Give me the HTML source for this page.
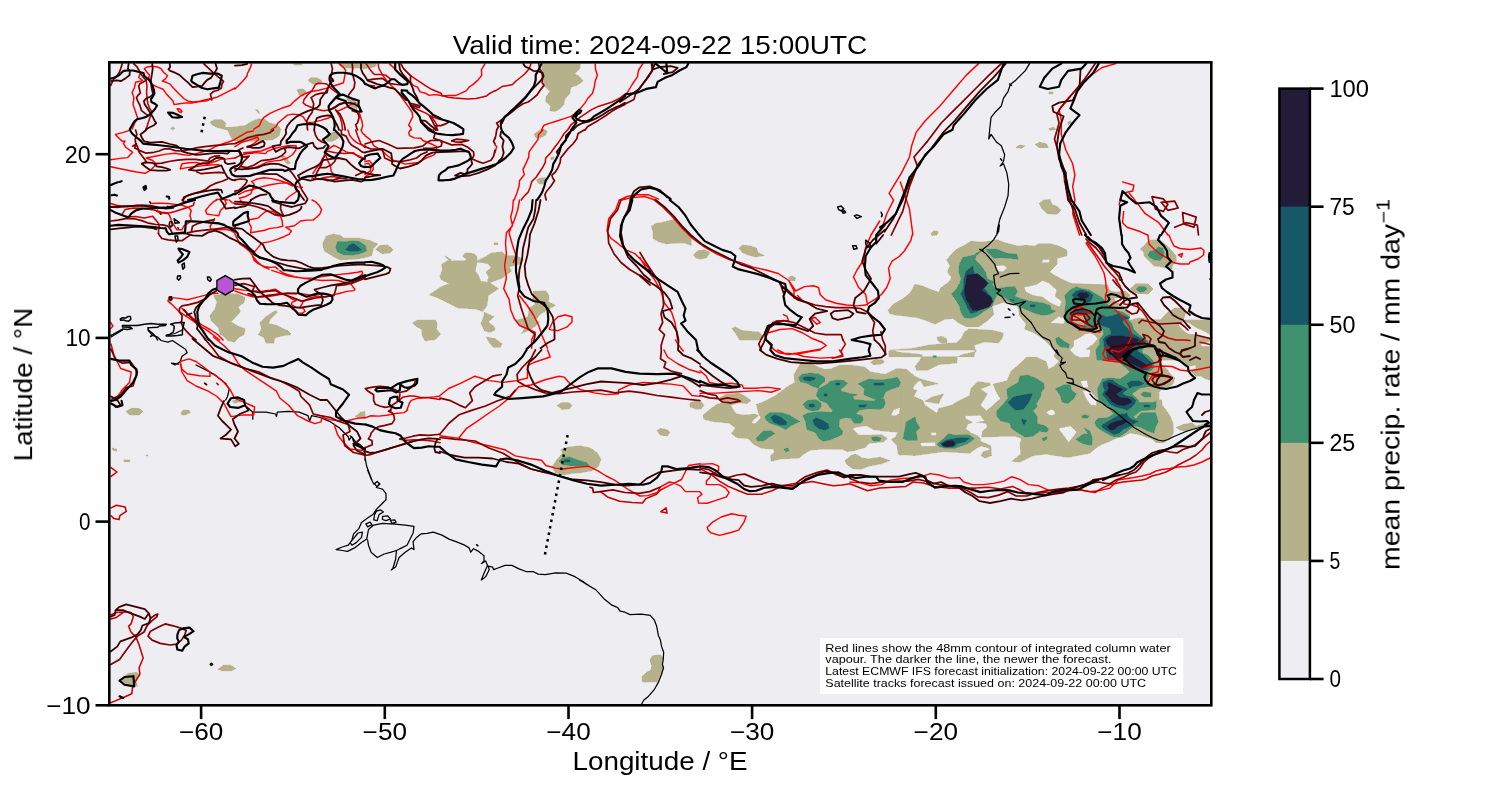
<!DOCTYPE html>
<html><head><meta charset="utf-8"><title>Valid time: 2024-09-22 15:00UTC</title>
<style>
html,body{margin:0;padding:0;background:#fff;}
body{width:1500px;height:800px;overflow:hidden;font-family:"Liberation Sans",sans-serif;}
svg{display:block}
text{font-family:"Liberation Sans",sans-serif;fill:#000;will-change:transform}
</style></head><body>
<svg width="1500" height="800" viewBox="0 0 1500 800">
<rect x="0" y="0" width="1500" height="800" fill="#fff"/>
<defs><clipPath id="ax"><rect x="109.3" y="62.3" width="1102.0" height="643.0"/></clipPath></defs>

<rect x="109.3" y="62.3" width="1102.0" height="643.0" fill="#eeedf2"/>
<g clip-path="url(#ax)">
<path d="M703.0,415.0 711.1,408.5 716.8,404.4 723.3,402.8 730.6,405.2 733.9,410.9 737.1,414.2 743.6,415.0 755.0,414.2 759.5,416.3 756.3,404.4 761.5,402.8 774.5,396.3 787.5,386.6 794.8,382.5 794.0,374.4 796.4,370.3 800.5,363.8 810.2,363.0 818.4,367.1 824.9,369.5 831.4,368.7 839.5,365.4 852.5,365.4 864.7,367.1 870.4,371.9 885.0,374.4 896.4,368.7 901.2,368.7 901.2,455.6 898.0,454.0 897.2,445.9 891.5,439.4 895.6,436.9 898.0,432.1 885.0,431.2 873.6,429.6 866.3,425.6 855.7,427.2 852.5,428.8 859.0,435.3 868.7,435.3 881.7,434.5 887.4,438.6 883.4,441.8 868.7,443.4 865.5,447.5 859.0,449.1 854.1,450.7 847.6,451.6 842.7,449.4 824.9,449.1 811.1,449.9 803.7,454.0 798.9,458.1 781.0,458.9 771.2,461.3 770.4,455.6 774.5,452.4 773.7,449.1 761.5,448.3 753.4,444.2 748.5,438.6 737.1,437.7 731.4,433.7 735.5,428.0 729.0,423.1 712.7,421.5 703.8,419.1Z M690.0,402.8 694.9,401.2 701.4,402.0 703.8,405.2 701.4,408.8 696.5,409.3 690.0,406.9Z M718.4,398.7 724.9,394.7 738.7,393.1 745.2,396.3 750.9,400.4 746.9,403.6 738.7,402.8 730.6,405.2 722.5,403.3Z M870.4,362.2 875.2,359.4 882.6,359.7 884.2,362.2 880.1,364.3 873.6,364.6Z M845.2,460.5 850.9,455.6 855.7,454.0 862.2,458.1 868.7,458.9 880.1,457.2 889.9,460.5 881.7,463.7 868.7,466.2 860.6,469.4 852.5,468.6 846.0,463.7Z M890.0,350.0 899.6,352.4 917.5,354.1 922.5,354.9 919.2,361.4 915.2,366.2 916.8,370.3 927.4,370.3 938.7,364.6 956.6,363.0 957.4,357.3 961.5,354.9 976.1,351.6 976.1,350.0Z M899.7,369.2 906.2,369.2 914.4,376.0 920.9,379.2 937.9,383.6 924.1,386.6 920.1,380.1 914.4,384.9 912.7,389.0 916.8,390.6 913.6,396.3 922.5,400.4 924.9,405.2 937.1,413.4 938.7,408.5 951.7,405.2 958.2,401.2 969.6,395.5 971.2,388.2 977.7,381.7 989.9,383.3 990.7,384.9 980.2,389.0 987.5,393.9 980.2,405.2 986.7,410.9 1000.5,398.7 996.4,392.2 993.2,384.1 1007.0,380.9 1011.1,371.1 1020.0,363.8 1026.5,357.3 1036.2,357.3 1046.0,361.4 1048.4,369.5 1054.1,366.2 1059.0,361.4 1054.1,356.5 1056.6,350.0 1130.0,350.0 1130.0,431.2 1117.5,437.7 1106.1,442.6 1098.0,445.9 1089.9,453.2 1068.7,457.2 1060.6,456.4 1046.0,454.0 1033.0,455.6 1020.0,462.1 1011.9,461.3 1020.8,454.0 1020.0,444.2 1021.6,438.6 1015.1,436.1 981.0,436.9 980.2,441.0 990.7,445.9 991.6,455.6 985.1,458.1 981.0,455.6 983.4,451.6 990.7,449.9 987.5,447.5 981.0,445.9 977.7,447.5 969.6,453.2 943.6,451.6 914.4,455.6 899.7,454.3Z M924.9,401.2 932.2,397.1 943.6,393.9 940.4,399.6 938.7,403.6 930.6,402.3Z M1130.0,320.0 1210.0,320.0 1210.0,380.0 1206.0,379.0 1201.0,376.0 1196.0,376.0 1191.0,372.0 1196.0,369.0 1196.0,365.0 1190.0,366.0 1185.0,367.0 1180.0,362.0 1173.0,359.0 1166.0,357.0 1160.0,360.0 1162.0,365.0 1167.0,369.0 1170.0,374.0 1175.0,378.0 1173.0,384.0 1170.0,386.0 1162.0,389.0 1159.0,392.0 1159.0,400.0 1130.0,400.0Z M1090.0,400.0 1161.5,400.0 1162.0,405.0 1166.0,410.0 1170.0,416.0 1173.0,423.0 1173.5,433.0 1170.0,439.0 1164.0,442.5 1156.0,442.5 1152.0,439.0 1146.0,437.0 1137.0,434.0 1130.0,433.0 1122.0,437.0 1115.0,438.0 1110.0,441.0 1102.0,444.0 1096.0,448.0 1090.0,452.0Z M1176.0,427.5 1183.0,424.5 1192.0,423.0 1196.0,426.0 1200.0,425.0 1208.0,422.5 1209.0,424.5 1203.0,426.5 1195.0,429.0 1186.0,431.5 1180.0,430.0Z M888.1,310.3 893.0,304.6 902.7,298.9 910.1,293.2 914.9,284.3 922.2,285.9 932.0,290.0 939.3,292.4 940.1,288.4 949.9,281.1 951.5,277.0 947.4,272.1 949.9,265.6 946.6,259.9 951.5,254.2 956.4,249.4 964.5,245.3 971.0,241.2 980.7,242.1 990.5,241.2 997.0,239.6 1005.1,242.9 1018.1,246.1 1026.2,245.3 1034.4,246.1 1039.2,243.7 1050.6,243.7 1058.7,246.1 1066.9,250.2 1066.9,255.9 1057.1,258.3 1057.1,264.0 1052.2,268.9 1049.8,272.1 1054.7,275.4 1063.6,280.2 1071.7,283.5 1089.6,284.3 1107.5,285.1 1107.5,355.0 1057.1,355.0 1050.6,346.1 1040.9,337.1 1032.7,332.2 1024.6,329.0 1026.2,324.1 1019.7,316.0 1018.1,306.2 1010.0,304.6 1003.5,302.2 992.1,306.2 993.7,314.4 987.2,320.9 979.1,326.6 966.1,326.6 958.0,322.5 953.1,318.4 945.0,319.2 935.2,324.1 927.1,320.9 917.4,317.6 904.4,316.0 889.7,313.6Z M888.9,350.9 901.1,349.3 912.5,348.5 928.7,345.2 945.0,343.6 956.4,342.8 961.2,338.7 964.5,332.2 968.6,329.0 984.0,329.8 993.7,330.6 1003.5,333.1 1001.9,338.7 998.6,342.8 984.0,342.0 974.2,345.2 975.1,350.1 974.2,356.6 888.9,356.6Z M937.2,337.1 941.7,336.3 946.6,338.7 946.6,342.8 941.7,343.3 937.7,340.4Z M931.2,233.1 935.2,231.2 938.2,232.3 936.9,234.7 932.0,235.6Z M1140.0,249.0 1144.5,245.5 1147.0,242.0 1150.0,240.0 1160.0,240.0 1166.0,245.0 1173.0,252.0 1176.0,256.0 1176.5,261.0 1173.0,264.0 1172.0,269.0 1166.0,268.0 1160.0,266.5 1154.0,266.0 1149.0,261.0 1144.0,256.0 1143.5,252.0Z M1130.0,289.0 1136.0,283.5 1148.0,284.0 1153.0,289.0 1148.0,294.0 1138.0,293.5 1133.0,292.0Z M1163.0,320.0 1164.0,316.0 1169.0,312.0 1175.0,308.0 1182.0,309.0 1186.0,312.0 1184.0,316.0 1183.0,320.0Z M1205.0,320.0 1206.0,317.5 1210.0,317.0 1210.0,320.0Z M1060.0,280.0 1064.0,280.0 1066.0,283.0 1072.0,284.0 1085.0,284.5 1102.0,284.5 1105.0,286.0 1108.0,286.0 1110.0,291.0 1116.0,292.0 1125.0,291.0 1130.0,295.0 1129.0,297.5 1120.0,297.0 1114.0,298.5 1116.0,302.0 1120.0,304.0 1124.0,307.0 1126.0,311.0 1130.0,314.5 1129.0,318.0 1130.0,322.0 1134.0,319.0 1140.0,318.0 1147.0,319.0 1150.0,320.0 1160.0,320.0 1164.0,316.0 1168.0,312.0 1174.0,309.0 1180.0,308.0 1184.0,310.0 1185.0,314.0 1184.0,318.0 1180.0,324.0 1183.0,328.0 1186.0,332.0 1190.0,334.0 1190.0,360.0 1060.0,360.0Z M651.4,226.2 655.7,223.6 662.7,222.4 675.0,219.2 680.2,222.7 685.5,228.9 690.7,236.7 691.6,245.5 683.7,242.9 666.2,243.7 659.2,242.0 653.1,238.5 653.1,232.4Z M693.4,255.1 697.7,250.7 704.7,249.9 710.0,252.5 706.5,257.7 700.4,259.1 696.0,258.1Z M738.9,248.1 742.4,245.1 750.2,245.8 756.4,248.1 758.1,252.5 764.2,255.6 755.5,256.9 748.5,255.1 742.4,252.5Z M788.4,277.0 792.2,276.1 795.7,277.9 794.8,280.8 789.6,280.5Z M731.9,328.6 735.4,326.9 741.5,330.3 748.5,331.2 759.0,332.1 762.5,335.6 760.7,340.0 739.7,340.0 735.4,333.0Z M888.5,310.2 893.7,304.1 900.0,300.6 900.0,315.5 893.7,314.6Z M429.4,294.9 440.7,287.0 449.5,283.5 441.6,280.0 439.9,276.5 442.5,269.5 441.6,264.2 447.7,260.7 465.2,260.7 467.0,259.0 462.6,256.4 465.2,252.9 474.0,253.7 476.6,256.4 477.5,260.7 484.5,257.2 491.5,252.9 502.0,252.0 505.5,255.5 516.0,255.5 523.8,259.9 519.5,264.2 512.5,266.0 509.0,266.9 511.6,271.2 502.0,278.2 489.7,282.6 498.5,288.7 488.0,295.7 487.1,305.4 482.7,311.5 475.7,308.9 458.2,308.0 447.7,302.7 437.2,297.5Z M445.1,255.8 451.2,259.9 449.5,260.7 446.0,257.6Z M494.1,242.9 497.6,242.9 497.6,244.6 494.1,244.6Z M390.0,246.7 392.6,250.2 390.0,252.9Z M533.5,291.4 545.7,290.8 549.2,295.7 548.3,301.9 555.3,305.4 547.5,309.7 540.5,314.1 535.2,320.2 539.6,322.0 535.2,326.4 528.2,330.7 521.2,333.4 524.7,329.0 519.5,325.5 516.0,320.2 523.0,318.5 528.2,316.7 529.1,308.0 535.2,304.5 532.6,297.5Z M412.7,322.9 417.1,320.2 435.5,320.2 437.2,323.7 436.4,329.0 440.7,334.2 435.5,339.5 425.0,340.9 422.4,336.0 421.5,329.0 416.2,326.4Z M481.0,323.7 483.6,316.7 484.5,312.4 494.1,316.7 488.0,322.0 494.1,326.4 495.0,329.9 489.7,332.5 484.5,330.7Z M486.2,336.9 495.0,338.6 502.0,343.8 500.2,347.3 493.2,347.3 488.9,342.1Z M210.0,122.1 214.4,119.5 221.4,119.5 225.7,123.0 224.9,127.4 231.0,127.4 245.0,125.6 252.0,121.2 259.0,118.6 265.1,119.5 269.5,123.0 277.3,124.7 280.8,129.1 279.1,136.1 273.0,139.6 262.5,140.5 252.0,141.4 241.5,141.4 232.7,140.5 230.1,135.2 227.5,130.0 217.0,127.4 211.7,124.7Z M308.0,80.1 311.5,77.5 317.6,78.0 322.0,81.0 320.2,83.6 312.3,84.1Z M297.1,89.7 302.7,88.9 306.2,91.5 303.6,95.9 299.2,95.0Z M346.5,97.6 353.5,99.4 357.0,103.7 357.0,109.0 351.7,107.2 348.2,102.0Z M326.3,138.7 332.5,131.7 337.7,132.6 338.6,137.9 332.5,141.4 327.2,141.4Z M280.8,156.2 284.3,155.4 290.5,163.2 287.0,164.1Z M170.6,128.2 173.2,126.8 175.0,128.6 172.4,130.0Z M255.5,109.5 257.6,109.5 259.8,113.4 258.1,113.0Z M293.1,63.5 302.7,63.5 301.8,64.9 294.0,64.9Z M338.6,63.8 365.0,63.8 365.0,68.7 358.7,67.9 350.0,68.4 341.2,67.0Z M542.0,63.8 580.5,63.8 579.6,68.7 574.3,74.0 578.7,75.7 583.1,81.0 577.0,85.4 570.8,87.1 570.0,93.2 564.7,99.4 563.8,104.6 559.5,109.0 555.1,111.6 549.8,110.7 550.7,106.4 545.5,101.1 546.3,96.7 549.8,91.5 544.6,86.2 543.7,77.5 542.0,70.5Z M534.1,134.4 538.5,130.9 543.7,129.1 547.2,130.9 545.5,135.2 540.2,137.9 535.8,137.9Z M550.4,157.6 554.2,156.8 553.3,159.4 551.1,159.7Z M536.4,179.9 540.2,178.1 545.5,177.6 545.5,181.6 542.8,184.2 538.5,183.4Z M361.7,63.8 375.7,63.8 376.6,66.1 370.5,67.9 363.5,68.7Z M213.5,295.6 224.0,293.9 238.0,293.9 245.0,297.4 244.1,302.6 238.0,307.0 240.6,311.4 235.3,317.5 231.0,321.9 238.0,326.2 245.0,328.8 243.2,335.0 220.5,335.0 218.7,328.0 210.9,320.1 210.0,315.7 215.2,308.7 217.0,301.7Z M259.0,335.0 261.6,328.0 259.8,322.7 266.0,316.6 275.6,310.5 277.3,312.2 270.3,319.2 268.6,323.6 276.5,325.3 285.2,329.7 290.5,335.0Z M322.4,244.1 326.2,236.2 333.2,234.1 340.2,235.4 343.7,238.0 359.5,238.3 370.0,240.6 377.9,244.1 373.5,248.5 371.7,255.5 366.5,257.2 357.7,259.0 340.2,259.9 333.2,256.4 324.5,251.1Z M375.6,249.4 379.6,245.5 387.5,245.0 392.7,249.4 390.1,252.9 382.2,253.7Z M218.7,330.0 245.0,330.0 244.1,334.4 238.0,337.9 234.5,342.2 227.5,340.5 222.2,335.2Z M258.1,334.4 262.5,330.0 287.0,330.0 290.5,333.5 281.7,336.1 274.7,337.9 273.8,343.1 266.0,343.1 264.2,337.9Z M126.0,411.4 131.2,408.4 139.1,408.4 143.1,411.4 139.1,414.9 129.5,414.9Z M181.1,412.2 183.7,410.1 189.0,410.5 190.4,412.6 185.5,414.9 181.6,414.9Z M355.2,416.6 360.5,412.2 365.0,411.4 365.0,418.4 358.7,418.0Z M231.9,400.9 238.0,399.6 240.6,401.7 234.5,403.1Z M112.0,448.1 116.4,449.0 116.9,451.1 112.9,450.4Z M123.9,459.8 129.5,459.8 129.8,461.6 124.2,461.7Z M146.1,454.9 147.9,454.9 147.9,455.8 146.1,455.8Z M557.2,405.6 561.6,402.5 568.6,402.5 572.1,405.6 569.5,408.6 562.5,409.5Z M657.0,430.5 660.5,428.4 666.6,429.6 670.1,432.2 667.5,435.7 660.5,435.4Z M552.0,467.2 556.4,460.2 562.5,453.2 560.7,449.7 567.7,447.1 580.0,445.9 590.5,448.0 597.5,453.2 601.0,459.4 598.3,466.4 592.2,470.7 581.7,472.5 571.2,473.4 562.5,475.1 555.5,472.5Z M217.9,669.4 223.6,665.3 230.9,665.3 235.8,668.6 231.7,670.7 222.0,670.7Z M121.2,679.9 127.7,673.4 136.7,672.3 139.9,675.9 135.9,680.7 137.5,686.4 129.4,685.6 123.7,684.0Z M650.2,659.6 652.6,655.6 660.7,655.1 662.7,658.0 662.0,663.7 663.2,667.7 659.9,675.9 657.2,681.6 644.5,682.0 642.1,681.6 642.1,676.7 646.1,672.6 651.0,670.2 651.8,665.3 650.7,662.9Z M1039.3,203.5 1043.2,200.1 1050.0,199.4 1052.3,204.6 1057.9,206.9 1060.9,210.3 1056.8,214.3 1047.7,213.7 1042.1,209.1Z M1035.3,144.5 1039.8,142.3 1046.6,143.9 1048.2,147.5 1038.7,147.5Z M1016.0,147.5 1019.4,145.2 1025.1,145.7 1021.7,148.4Z M1048.9,128.7 1053.4,127.1 1055.7,129.3 1050.0,130.5Z M1048.9,91.9 1052.9,91.9 1052.9,93.8 1048.9,93.8Z M931.0,234.1 933.3,231.3 937.8,231.3 936.7,235.0Z M1067.2,123.0 1070.4,120.7 1071.5,123.0 1068.6,124.8Z" fill="#b5b18b" stroke="#b5b18b" stroke-width="0.6" stroke-linejoin="round" shape-rendering="crispEdges"/>
<path d="M759.5,415.8 754.2,419.5 752.2,422.6 755.0,423.4 760.2,417.9Z M891.5,415.0 893.9,410.1 899.6,408.2 898.8,413.4 895.1,415.5Z M965.6,416.3 980.2,415.8 983.9,420.7 974.5,422.3 985.9,423.9 986.7,427.2 981.8,431.2 981.0,438.6 977.7,435.3 971.2,432.5 966.4,428.8 968.0,424.7 973.7,422.3 966.4,418.6Z M920.9,443.4 934.7,442.6 935.2,445.5 921.7,445.9Z M931.4,433.2 935.8,432.9 936.0,434.8 931.8,435.1Z M1046.8,412.6 1050.9,409.8 1054.1,410.9 1054.9,414.2 1050.1,415.0Z M1059.0,428.8 1070.4,426.4 1076.1,432.1 1072.0,437.7 1068.7,441.8 1066.3,438.6 1062.2,432.9Z M1080.9,381.7 1086.6,380.9 1087.9,387.4 1083.4,386.6Z M1083.4,391.4 1089.1,390.3 1096.4,398.7 1095.6,405.2 1090.7,404.4 1086.6,398.7Z M1073.6,350.0 1089.9,350.0 1089.1,356.5 1082.6,356.5 1076.9,354.1Z M1179.0,325.0 1184.0,322.0 1190.0,324.0 1196.0,328.0 1203.0,331.0 1210.0,335.0 1210.0,337.0 1204.0,336.5 1196.0,334.0 1188.0,333.5 1183.0,330.0Z M1201.0,344.5 1210.0,341.5 1210.0,346.0 1202.0,345.8Z M1090.0,334.0 1094.0,335.0 1097.0,339.0 1093.0,344.0 1090.0,345.0Z M996.2,266.4 1003.5,265.6 1006.7,268.1 1002.7,271.3 997.8,270.5Z M1042.5,260.4 1049.0,259.6 1049.0,262.0 1042.5,262.4Z M1024.6,287.6 1036.0,285.1 1042.5,281.1 1049.0,283.5 1056.3,290.0 1054.7,296.5 1061.2,301.4 1059.6,306.2 1054.7,304.6 1049.0,301.4 1042.5,296.5 1032.7,294.9 1026.2,291.6Z M1051.4,322.5 1058.7,316.8 1064.4,319.2 1063.6,323.3Z M1074.2,342.0 1081.5,338.7 1089.6,333.9 1096.1,337.1 1092.9,343.6 1086.4,348.5 1083.1,355.0 1075.0,355.0Z M1060.0,318.5 1063.0,318.0 1064.0,321.0 1062.0,323.0 1060.0,323.0Z M1070.0,350.0 1075.0,345.0 1074.0,341.0 1080.0,338.0 1085.0,334.5 1090.0,333.5 1094.0,335.5 1097.0,338.5 1093.0,342.0 1089.0,345.0 1085.0,349.0 1084.0,352.0 1087.0,356.5 1080.0,357.0 1074.0,354.0Z M475.7,271.2 477.5,262.5 488.0,264.2 490.6,267.7 485.4,272.1 488.0,276.5 487.1,281.7 481.0,280.9 479.2,275.6Z" fill="#eeedf2" stroke="#eeedf2" stroke-width="0.6" stroke-linejoin="round" shape-rendering="crispEdges"/>
<path d="M798.5,377.6 802.1,374.4 810.2,373.2 818.4,374.0 824.5,377.6 824.5,381.7 820.0,384.9 818.4,388.2 813.5,386.6 807.0,383.3 800.5,381.7Z M818.4,389.0 826.5,384.9 829.7,381.7 836.2,380.1 843.6,380.5 847.6,383.3 844.4,386.6 840.3,389.0 841.9,391.4 850.9,393.9 857.4,394.7 852.5,396.3 854.1,399.6 862.2,400.4 873.6,401.2 879.3,398.7 884.2,398.7 885.0,403.6 883.4,407.7 880.1,409.3 868.7,408.5 859.0,410.1 855.7,414.2 862.2,415.8 863.1,419.9 860.6,423.1 854.1,423.1 850.9,418.2 846.0,417.4 839.5,419.1 838.7,426.4 842.7,431.2 841.9,434.5 831.4,439.4 823.2,441.3 819.2,438.6 815.1,432.1 807.0,429.6 805.7,421.5 802.9,415.8 807.0,413.4 818.4,411.7 831.4,412.6 833.0,410.9 829.7,406.9 826.5,402.8 820.0,400.4 816.4,395.5Z M858.2,383.8 868.7,379.2 881.7,380.1 893.1,378.4 897.2,377.3 900.4,382.5 898.8,386.6 891.5,389.0 885.0,392.2 883.4,397.1 878.5,400.4 873.6,398.7 863.9,394.7 864.7,389.0 862.2,386.6Z M803.3,404.4 807.0,400.7 815.1,399.6 820.0,402.0 821.6,406.1 818.4,410.1 811.9,410.9 806.2,408.8Z M765.2,416.6 769.6,412.6 781.0,412.6 789.1,415.0 795.6,419.1 799.7,421.5 790.7,425.6 785.9,429.6 777.7,425.6 769.6,423.1 766.0,419.9Z M756.3,438.6 763.1,431.2 771.2,430.9 774.8,433.7 768.0,437.7 763.9,440.7 757.4,440.7Z M783.9,449.1 787.5,448.0 789.1,450.4 785.9,451.9Z M871.2,437.7 876.1,436.6 880.9,438.2 880.1,440.7 873.6,441.0Z M903.2,438.6 905.3,428.0 906.1,422.3 915.1,416.9 915.9,421.5 919.9,428.0 915.9,431.2 917.5,440.2 907.7,440.5Z M996.4,411.7 1003.7,403.6 1007.8,398.7 1007.0,389.0 1018.4,382.5 1020.0,376.0 1028.1,375.2 1036.2,378.4 1043.6,383.3 1044.4,388.2 1041.1,392.2 1040.3,397.1 1036.2,403.6 1037.1,406.9 1033.0,410.9 1037.1,416.6 1037.1,423.9 1044.4,425.6 1048.4,428.8 1046.8,432.1 1039.5,431.2 1033.0,436.1 1024.9,436.9 1018.4,432.9 1011.1,428.0 1010.2,423.1 1000.5,420.7 997.2,416.6Z M1055.4,389.0 1063.9,384.9 1070.4,384.9 1071.2,389.8 1076.1,393.9 1073.6,398.7 1067.9,403.6 1062.2,402.0 1060.6,396.3 1058.2,392.2Z M1081.4,415.8 1085.0,415.0 1089.1,416.3 1087.4,417.9 1082.6,417.9Z M1076.1,439.4 1082.6,434.5 1088.2,433.7 1084.2,428.0 1089.9,431.2 1092.3,438.6 1091.5,445.1 1085.0,444.2 1079.3,441.8Z M1041.9,438.6 1046.8,436.6 1046.8,439.0 1043.6,441.0Z M933.1,355.7 936.3,355.7 936.3,357.3 933.1,357.3Z M937.1,444.2 943.6,438.6 948.5,433.7 955.0,435.3 968.0,434.5 974.5,438.6 968.0,443.4 961.5,445.9 955.0,448.3 945.2,448.3 939.6,446.7Z M1096.0,350.0 1100.0,344.0 1100.5,339.0 1103.0,335.0 1110.0,333.0 1111.0,328.0 1102.0,327.0 1100.0,324.0 1098.0,320.0 1124.0,320.0 1129.0,326.0 1134.0,331.0 1142.0,337.0 1148.0,341.0 1147.5,344.0 1142.0,346.5 1138.0,350.0 1143.0,353.5 1147.0,355.0 1152.5,360.0 1154.0,365.0 1152.0,370.0 1146.0,372.0 1149.0,376.0 1146.0,382.0 1149.0,385.0 1152.5,386.6 1156.0,390.0 1156.0,400.0 1099.0,400.0 1098.0,394.0 1097.5,389.0 1100.0,384.0 1102.5,379.0 1110.0,378.0 1120.0,379.0 1125.0,376.0 1130.0,372.0 1125.0,367.0 1119.0,362.0 1113.0,360.0 1109.0,358.0 1105.0,354.5 1100.0,353.0Z M1098.0,400.0 1156.0,400.0 1156.0,406.0 1154.5,411.0 1157.0,417.0 1158.0,422.0 1155.0,428.0 1154.0,433.0 1148.0,431.0 1140.0,427.0 1134.0,425.5 1130.0,429.0 1125.0,433.0 1120.0,436.5 1113.0,436.5 1107.0,433.5 1101.0,430.0 1096.0,426.0 1095.0,422.0 1098.0,418.5 1107.0,418.0 1114.0,414.0 1110.0,410.0 1105.0,405.0Z M1090.0,435.0 1091.5,437.0 1091.5,443.0 1090.0,444.5Z M951.5,294.1 956.4,289.2 959.6,283.5 961.2,278.6 958.8,272.1 959.6,264.0 962.9,257.5 974.2,255.1 977.5,252.6 984.0,249.4 980.7,251.8 975.9,255.9 975.1,259.9 980.7,265.6 985.6,272.1 987.2,278.6 993.7,281.9 992.1,285.1 997.0,290.0 996.2,296.5 993.7,301.4 992.1,306.2 984.0,311.1 977.5,316.0 971.0,318.4 964.5,317.6 961.2,312.7 959.6,306.2 955.6,299.7Z M985.6,249.4 997.0,249.4 1006.7,253.4 1016.5,254.2 1018.1,259.1 1010.0,258.3 1000.2,257.5 993.7,258.3 990.5,255.1Z M994.6,289.2 1003.5,287.6 1014.9,286.7 1017.3,291.6 1014.9,296.5 1021.4,298.9 1031.1,301.4 1042.5,303.0 1049.8,305.4 1051.4,309.5 1055.5,311.1 1049.0,314.4 1042.5,315.2 1036.0,313.6 1026.2,309.5 1018.1,306.2 1010.0,301.4 1003.5,296.5 997.0,294.9Z M1055.5,338.7 1058.7,337.1 1063.6,341.2 1069.3,344.4 1068.5,347.7 1060.4,346.9 1057.1,343.6Z M1148.0,255.0 1150.0,251.5 1156.0,250.0 1158.0,247.0 1163.0,248.5 1164.0,253.0 1163.0,257.0 1160.0,260.5 1154.0,259.5 1150.0,257.5Z M1136.0,289.0 1139.0,286.5 1144.5,286.5 1147.0,289.0 1144.0,291.5 1139.0,292.0Z M1065.0,295.0 1070.0,290.0 1076.0,287.0 1081.0,288.5 1089.0,290.0 1094.0,293.0 1102.0,297.5 1105.0,301.5 1110.0,307.0 1116.0,310.0 1124.0,313.0 1130.0,317.0 1128.0,320.0 1132.0,324.0 1134.0,330.0 1140.0,336.0 1145.0,339.0 1148.0,343.0 1147.0,345.0 1142.0,350.0 1143.0,356.0 1145.0,360.0 1097.0,360.0 1096.0,350.0 1100.0,344.0 1099.5,339.0 1104.0,336.0 1103.0,330.0 1100.0,327.0 1093.0,329.0 1080.0,330.0 1074.0,327.0 1070.0,323.0 1066.0,318.0 1065.0,310.0 1066.0,303.0Z M335.9,247.6 337.6,241.5 345.5,241.8 352.5,241.1 359.5,241.5 365.6,245.9 366.5,251.1 359.5,253.7 352.5,255.1 343.7,254.6 337.6,252.0Z M559.0,461.1 562.5,458.1 569.5,457.1 578.2,460.2 587.0,462.9 589.6,466.4 580.0,465.5 569.5,465.5 562.5,464.6Z" fill="#3f9170" stroke="#3f9170" stroke-width="0.6" stroke-linejoin="round" shape-rendering="crispEdges"/>
<path d="M1132.5,394.1 1135.6,391.6 1140.0,388.8 1146.2,387.5 1152.5,386.8 1158.1,390.6 1158.8,395.0 1155.6,401.2 1152.5,401.9 1139.4,401.9 1138.8,400.0 1135.0,396.2Z M1134.1,416.6 1137.5,413.8 1141.2,411.2 1154.4,410.0 1155.0,412.2 1141.2,412.4 1140.0,413.4 1136.2,418.1Z M1072.0,318.0 1077.0,315.0 1084.0,316.0 1086.0,320.0 1084.0,325.0 1078.0,324.0 1073.0,322.0Z" fill="#b5b18b" stroke="#b5b18b" stroke-width="0.6" stroke-linejoin="round" shape-rendering="crispEdges"/>
<path d="M802.9,377.9 807.0,376.8 815.9,377.9 813.5,379.6 809.4,380.9 804.6,380.1Z M835.9,383.3 839.8,383.0 839.5,384.9 836.2,384.9Z M824.1,393.9 827.0,393.9 827.0,396.0 824.1,396.0Z M809.4,404.4 813.5,403.9 815.1,406.1 811.9,407.2 809.4,406.5Z M859.0,405.2 867.1,404.8 864.7,406.9 859.0,406.9Z M873.9,383.3 883.4,383.0 884.2,384.9 874.4,385.3Z M770.9,417.4 774.5,415.0 781.0,417.4 786.7,422.3 785.9,424.7 779.4,424.7 773.7,422.3Z M813.0,419.9 815.9,417.9 821.6,419.9 828.1,423.9 828.9,428.0 824.9,429.9 819.2,428.8 814.3,424.7Z M940.7,443.4 946.1,440.2 954.2,438.6 961.5,437.7 969.6,438.2 964.7,441.8 957.4,443.4 954.2,446.7 946.1,447.2 942.0,445.9Z M1008.1,402.8 1013.5,397.1 1024.9,394.7 1032.2,393.9 1028.9,402.0 1023.2,409.3 1015.1,409.8 1011.1,406.1Z M1021.9,419.1 1026.5,420.7 1024.1,424.7 1022.4,422.3Z M1103.0,323.0 1100.0,320.0 1122.0,320.0 1123.0,324.0 1128.0,329.0 1132.0,334.0 1137.0,336.5 1142.0,339.0 1146.0,341.5 1142.0,344.5 1137.0,348.0 1136.0,350.0 1142.0,354.0 1147.0,359.0 1151.0,362.0 1152.0,365.5 1149.0,369.0 1144.0,370.0 1137.0,368.0 1130.0,364.5 1124.0,361.0 1118.0,357.0 1113.0,353.0 1110.0,353.0 1107.0,349.0 1105.0,344.0 1103.5,339.5 1105.0,337.0 1111.5,334.0 1110.0,328.0 1105.0,326.0Z M1102.0,425.0 1110.0,420.5 1116.0,417.0 1122.0,414.0 1127.0,415.0 1130.0,419.0 1138.0,421.5 1133.0,424.0 1128.0,427.0 1123.0,429.0 1119.0,433.0 1114.0,434.5 1108.0,431.0 1103.0,428.0Z M1103.1,382.5 1108.8,380.0 1112.5,380.3 1118.1,384.4 1127.5,389.1 1122.5,393.1 1125.0,395.6 1132.5,397.5 1135.9,400.6 1133.8,405.0 1127.5,410.0 1121.2,408.1 1116.2,406.9 1110.0,403.8 1106.2,398.8 1102.5,394.4 1105.0,390.6 1103.4,386.9Z M1127.2,383.4 1131.2,381.2 1139.4,381.2 1143.8,383.4 1139.4,385.6 1133.1,386.2 1129.4,388.1Z M1144.1,405.3 1148.8,405.0 1150.0,406.6 1144.4,406.9Z M1113.1,420.0 1119.4,415.6 1125.0,413.8 1126.9,413.1 1127.5,416.2 1130.6,420.0Z M960.8,294.1 963.7,288.4 963.7,280.2 966.1,271.3 972.6,266.4 974.2,273.7 984.0,278.6 988.1,283.5 984.0,288.4 992.1,298.1 990.5,303.0 984.0,307.9 975.9,311.9 971.0,313.6 967.7,307.9 964.5,301.4Z M1010.0,299.4 1014.1,300.1 1013.2,301.4Z M1030.3,304.9 1035.2,304.9 1035.2,306.6 1030.3,306.6Z M1072.0,295.0 1076.0,291.0 1082.0,290.0 1089.0,292.0 1093.0,295.0 1091.0,301.0 1087.0,303.0 1082.0,301.0 1075.0,299.0Z M1073.0,313.0 1078.0,310.0 1086.0,310.0 1090.0,312.0 1086.0,314.0 1078.0,314.5Z M1098.0,318.0 1100.0,314.0 1106.0,317.0 1112.0,316.0 1118.0,314.0 1124.0,316.0 1129.0,318.0 1120.0,322.0 1125.0,327.0 1130.0,332.0 1134.0,336.0 1140.0,338.0 1144.0,342.0 1140.0,346.0 1136.0,352.0 1134.0,360.0 1108.0,360.0 1107.0,354.0 1104.0,346.0 1104.0,340.0 1108.0,337.0 1113.0,336.0 1112.0,330.0 1110.0,327.0 1103.0,326.0 1099.0,323.0Z M345.8,249.4 349.9,245.0 353.4,243.6 357.7,246.7 361.2,249.9 356.0,251.1 349.0,251.1Z M564.6,459.9 569.8,459.9 569.8,461.6 564.6,461.6Z" fill="#175868" stroke="#175868" stroke-width="0.6" stroke-linejoin="round" shape-rendering="crispEdges"/>
<path d="M1140.9,394.4 1143.8,392.2 1150.6,392.8 1150.9,396.6 1144.4,396.9Z" fill="#3f9170" stroke="#3f9170" stroke-width="0.6" stroke-linejoin="round" shape-rendering="crispEdges"/>
<path d="M942.3,443.8 946.9,441.3 952.6,440.7 955.0,442.9 952.6,446.2 946.1,446.7 942.8,445.5Z M1106.0,339.5 1111.0,336.5 1121.0,336.0 1133.0,337.8 1138.5,339.5 1135.5,343.5 1129.5,346.2 1128.0,350.0 1130.0,354.5 1135.0,358.0 1142.0,362.0 1146.5,365.0 1146.0,367.5 1141.5,367.8 1135.0,365.2 1128.0,361.0 1123.0,357.0 1119.0,353.0 1116.2,350.0 1114.5,347.0 1110.0,343.5Z M1107.0,427.0 1110.0,424.0 1116.0,421.5 1123.0,420.0 1127.0,421.5 1123.0,424.0 1118.0,426.0 1114.0,429.5 1110.0,429.5Z M1108.1,383.1 1110.6,383.4 1116.2,386.2 1122.5,389.4 1115.9,394.4 1120.0,397.5 1127.5,398.4 1131.6,400.6 1130.6,403.1 1123.8,405.6 1116.9,404.7 1111.9,401.2 1108.8,396.9 1105.3,393.8 1108.8,388.8 1108.1,385.6Z M966.9,275.4 977.5,273.7 984.0,279.4 988.1,283.2 981.6,290.0 990.5,297.3 992.9,301.4 988.9,307.1 977.5,310.3 972.6,310.3 969.4,304.6 966.1,298.9 964.5,291.6 966.1,281.9Z M1077.0,295.0 1080.0,292.5 1087.0,293.0 1089.0,296.0 1086.0,298.0 1080.0,297.5Z M1106.0,340.0 1110.0,337.0 1120.0,336.5 1130.0,337.5 1138.0,340.0 1136.0,344.0 1132.0,347.0 1128.0,350.0 1130.0,356.0 1132.0,360.0 1116.0,360.0 1114.0,354.0 1112.0,349.0 1107.0,344.0Z" fill="#221c38" stroke="#221c38" stroke-width="0.6" stroke-linejoin="round" shape-rendering="crispEdges"/>

<path d="M1056.6,350.0 1059.0,354.9 1062.2,358.1 1060.6,363.0 1065.5,362.2 1059.8,365.4 1062.2,369.5 1065.5,372.7 1067.1,377.6 1072.8,379.2 1073.6,383.3 1067.1,382.5 1075.2,384.9 1085.0,389.0 1090.0,391.9 M1090.0,394.0 1093.0,397.5 1096.0,400.0 M1096.0,400.0 1102.0,403.0 1107.0,407.0 1113.0,410.0 1119.0,415.0 1125.0,420.0 1130.0,424.0 1134.0,427.5 1140.0,431.0 1146.0,434.5 1152.0,437.5 1158.0,440.0 1163.0,441.0 1168.0,439.5 1174.0,436.5 1180.0,434.0 1186.0,431.5 1192.0,429.5 1198.0,428.0 1204.0,426.0 1210.0,425.0 M999.4,225.0 998.6,231.5 993.7,239.6 987.2,246.1 981.6,250.2 985.6,253.4 990.5,259.1 994.6,264.0 996.2,268.9 998.6,273.7 993.7,275.4 994.6,283.5 996.2,289.2 1000.2,290.0 997.0,293.2 1001.9,296.5 1006.7,303.0 1013.2,304.6 1019.7,303.0 1025.4,301.4 1019.7,306.2 1021.4,312.7 1026.2,317.6 1031.1,322.5 1036.0,330.6 1042.5,337.1 1049.8,340.4 1052.2,346.9 1058.7,355.0 M1000.2,277.0 1010.0,273.7 1018.9,273.4 M350.0,435.8 352.2,437.1 353.5,441.5 356.1,443.2 359.6,444.1 362.2,446.7 364.4,452.0 365.3,459.0 366.6,466.0 369.2,473.0 371.9,480.0 M111.1,337.0 122.5,330.0 M147.9,330.0 152.2,335.2 157.5,337.0 161.0,340.5 168.0,342.2 172.4,340.5 180.2,345.7 185.5,349.2 187.2,352.7 182.0,356.2 180.2,361.5 175.0,365.0 171.5,363.2 178.5,364.1 M166.2,335.2 175.0,333.5 182.0,330.0 M196.0,365.0 208.2,371.1 217.0,376.4 225.7,383.4 229.2,389.5 227.5,396.5 225.7,400.0 M245.0,405.2 252.8,412.2 252.8,419.2 M253.7,412.2 266.0,412.2 275.6,414.0 276.5,416.6 277.3,412.2 288.7,411.4 299.2,412.2 308.0,415.7 309.7,421.0 311.5,415.7 320.2,417.5 330.7,421.9 339.5,428.0 344.7,433.2 348.2,436.7 349.1,440.2 351.7,436.7 357.0,443.7 362.2,449.0 365.0,452.5 365.0,460.3 M579.5,580.0 587.6,584.9 595.7,589.7 603.9,598.7 612.0,605.2 617.7,607.6 620.1,611.2 625.0,612.2 629.9,614.6 641.2,614.1 650.2,615.4 654.2,619.8 656.7,626.3 658.3,635.2 660.4,640.1 661.6,646.6 663.7,652.3 663.2,659.6 662.4,664.5 663.5,667.7 661.6,674.2 658.3,682.4 654.2,689.7 648.6,696.2 643.7,700.2 641.2,704.8 M1029.6,63.6 1025.1,70.9 1016.0,79.9 1010.3,84.5 1008.1,91.3 1003.5,98.1 1001.3,106.0 995.6,111.7 991.1,117.3 989.9,127.5 988.8,138.9 991.1,134.3 996.7,142.3 1001.3,145.7 1004.7,154.7 1003.5,161.5 1000.1,166.1 1003.5,163.8 1006.9,172.9 1008.7,184.2 1008.1,195.5 1004.7,206.9 1000.1,218.2 997.9,227.3 996.7,235.0 M367.6,470.0 371.1,478.7 373.7,484.0 377.2,481.4 379.9,484.0 376.4,487.5 382.5,489.2 386.0,493.6 386.0,499.7 380.7,505.0 376.4,509.4 372.9,514.6 367.6,518.1 361.5,522.5 358.9,528.6 353.6,533.9 351.9,540.0 348.4,545.2 342.2,547.0 336.1,549.6 342.2,550.5 347.5,551.4 354.5,547.9 361.5,542.6 366.7,539.1 368.5,529.5 373.7,525.1 382.5,523.4 394.7,524.2 405.2,525.1 414.0,526.3 413.1,533.0 409.6,540.0 407.0,545.2 401.7,547.9 396.5,550.5 391.2,552.2 384.2,554.0 377.2,557.5 371.1,552.2 368.5,545.2 367.6,540.0 M396.5,550.5 395.6,559.2 393.0,568.0 391.2,570.1 395.6,567.1 399.1,557.5 405.2,552.2 411.4,547.9 414.0,549.6 413.1,541.7 416.6,537.4 421.0,533.9 427.1,533.3 433.2,532.1 442.0,535.1 449.0,539.1 456.0,541.7 464.7,545.2 469.1,547.9 470.8,552.2 473.5,548.7 478.7,551.4 484.0,555.7 484.0,561.0 481.3,563.6 485.7,561.0 487.5,565.4 484.0,573.2 481.3,579.9 485.7,576.7 489.2,569.7 488.3,566.2 492.7,567.1 493.6,569.7 498.0,568.0 505.0,565.4 512.0,565.4 519.0,568.9 526.0,571.5 533.0,571.5 538.2,574.1 545.2,574.6 555.7,572.9 566.2,573.2 575.0,576.7 583.7,582.0 590.0,586.4 M376.4,511.1 380.7,509.9 383.4,512.0 379.0,514.6 377.2,520.7 373.7,519.9 374.6,514.6Z M382.5,516.4 387.7,515.8 390.4,519.0 386.0,520.7 382.5,519.5Z M390.4,520.4 394.7,519.9 396.1,522.1 392.1,523.4Z M365.9,523.9 370.2,522.1 372.0,524.6 367.6,526.9Z M354.5,537.4 358.0,533.0 362.4,532.1 361.5,537.4 356.2,542.6 351.9,545.2 350.1,542.6Z M374.6,484.0 377.2,481.4 379.5,484.0 376.9,486.6Z" fill="none" stroke="#000000" stroke-width="1.25" stroke-linejoin="round" stroke-linecap="round"/>

<path d="M700.1,370.8 706.2,376.0 709.5,382.5 717.6,384.1 730.6,383.3 742.0,384.9 743.6,388.2 755.0,388.2 768.0,387.4 780.2,389.0 771.2,392.2 758.2,390.6 745.2,391.4 730.6,392.2 716.0,393.1 703.0,393.1 700.1,393.5 M777.7,350.0 784.2,353.2 797.2,354.1 810.2,351.6 820.0,350.0 M839.5,350.0 842.7,354.9 836.2,357.3 820.0,358.1 803.7,356.5 794.0,353.2 M811.4,338.2 822.0,342.3 826.3,345.5 820.3,349.3 809.9,351.0 799.5,352.7 789.1,354.5 778.7,352.7 773.5,349.3 768.3,342.3 M675.5,339.9 679.0,345.8 683.3,351.0 M1120.0,360.0 1123.0,358.0 1125.0,360.0 M1103.0,360.0 1110.0,361.0 1118.0,362.0 1124.0,363.0 1130.0,367.0 1138.0,370.0 1145.0,372.0 M1144.0,368.0 1152.0,367.0 1162.0,366.0 1172.0,366.5 1180.0,370.0 1188.0,371.0 1198.0,369.5 1210.0,367.0 M1149.0,374.0 1158.0,372.0 1160.0,364.0 1161.0,360.0 M1147.0,384.0 1152.0,376.0 1160.0,374.0 1166.0,376.0 1172.0,377.5 M1210.0,458.0 1202.0,462.0 1194.0,465.0 1186.0,466.5 1178.0,467.0 1170.0,468.5 1162.0,469.5 1156.0,471.0 1150.0,474.0 1142.0,476.0 1134.0,477.5 1124.0,479.0 1118.0,480.0 M912.5,233.9 910.9,240.4 904.4,251.0 900.0,255.4 M1169.0,235.0 1171.0,240.0 1174.0,246.0 1180.0,248.5 1190.0,249.5 1201.0,248.0 1204.0,250.5 1203.5,255.0 1198.0,259.0 1190.0,262.0 1189.0,264.0 1180.0,264.0 1173.0,262.5 1169.0,259.0 1160.0,254.0 1154.0,249.0 1149.0,244.0 1148.5,240.0 1148.0,235.0 M1178.5,255.0 1182.5,253.5 1181.5,257.0Z M1086.0,243.0 1090.0,249.0 1095.0,256.0 1100.0,265.0 1104.0,273.0 1105.5,280.0 M1105.5,280.0 1106.0,286.0 1107.0,291.0 1105.5,295.0 1105.5,301.5 M1115.0,310.0 1120.0,314.0 1125.0,320.0 1129.0,326.0 1131.0,332.0 1131.5,337.0 1129.0,342.0 1125.0,349.0 1119.0,352.0 1112.0,350.0 1105.0,348.0 1103.0,354.0 1105.0,358.0 1116.0,359.0 1122.0,360.0 M1072.5,315.5 1075.0,308.0 1080.0,306.5 1086.0,310.0 1090.0,313.0 1084.0,314.5 1078.0,315.0 M1079.0,330.0 1090.0,331.0 1100.0,332.0 M1070.0,318.0 1071.0,322.0 1078.0,325.0 1085.0,327.0 M390.2,410.0 392.0,407.4 M406.9,410.0 409.5,403.0 411.2,400.4 416.5,398.6 425.2,397.7 434.0,396.9 440.0,396.0 M365.0,417.9 371.0,415.7 378.9,416.1 386.7,415.2 395.5,413.5 404.2,412.6 407.7,410.0 M213.5,337.0 224.0,345.7 232.7,354.5 238.0,363.2 245.0,370.2 255.5,377.2 266.0,384.2 276.5,391.2 280.0,398.2 288.7,405.2 297.5,415.7 308.0,421.0 315.0,423.6 321.1,421.9 322.0,417.5 332.5,420.1 346.5,421.0 357.0,418.4 365.0,417.5 M180.2,361.5 189.0,358.9 196.0,361.5 203.0,366.7 210.0,372.0 210.0,376.4 199.5,375.8 187.2,373.7 182.0,369.4Z M180.2,363.2 182.0,372.0 187.2,380.7 196.0,386.0 208.2,391.2 217.0,396.5 224.0,403.5 231.0,416.6 243.2,414.9 253.7,414.9 254.6,407.0 245.0,402.6 234.5,398.2 230.1,389.5 224.0,382.5 213.5,373.7 M111.1,344.0 113.7,354.5 120.7,368.5 131.2,372.0 129.5,382.5 122.5,389.5 115.5,400.0 M334.2,424.5 337.7,435.0 343.0,442.0 350.0,449.0 365.0,450.7 M440.0,395.5 448.7,388.5 461.0,383.2 475.0,376.2 489.0,380.6 503.0,382.4 517.0,380.6 527.5,378.0 527.5,365.7 534.5,362.2 550.2,357.0 547.6,350.0 M459.2,437.5 466.2,428.7 476.7,421.7 489.0,413.0 499.5,406.0 510.0,397.2 518.7,386.7 531.0,385.0 545.0,379.7 559.0,376.2 564.2,377.1 569.5,383.2 580.0,389.4 594.0,392.9 606.2,394.6 618.5,393.7 618.5,390.2 629.0,385.0 643.0,382.4 657.0,383.2 671.0,384.1 683.2,385.9 692.0,395.5 700.0,396.4 M440.0,435.7 459.2,438.4 475.0,442.7 490.7,446.2 504.7,449.7 515.2,455.9 529.2,458.5 541.5,460.2 545.9,465.5 555.5,468.1 562.5,469.0 576.5,467.2 588.7,466.4 597.5,470.7 606.2,476.0 615.0,480.3 623.7,486.5 629.0,490.0 M664.0,350.0 667.5,357.0 678.0,364.0 688.5,369.2 700.0,372.7 M700.0,463.7 688.5,465.5 685.0,472.5 681.5,479.5 671.0,484.7 660.5,490.0 M144.4,68.7 147.0,67.0 152.2,66.3 157.5,67.0 161.0,68.7 163.6,72.2 167.6,75.7 165.4,78.8 162.3,81.0 166.2,82.3 170.2,84.1 172.4,87.1 176.7,91.5 180.2,95.0 183.7,98.5 188.1,101.1 193.4,102.0 199.5,101.1 205.6,99.8 211.7,98.5 217.0,97.2 222.2,94.6 227.5,91.9 231.9,89.7 235.0,88.0 M144.4,68.7 147.0,72.2 149.6,75.3 148.7,77.5 150.5,81.9 153.1,84.9 157.5,87.1 163.2,89.3 166.2,93.7 169.7,97.6 172.8,100.7 174.1,104.6 179.4,103.7 186.4,102.9 192.5,102.9 200.4,101.6 206.5,100.7 211.7,98.9 M140.0,74.0 138.7,77.5 142.6,80.6 135.6,82.3 134.3,88.0 132.1,92.4 133.9,97.6 133.0,104.6 135.2,110.7 136.9,116.0 137.8,118.2 134.7,123.0 132.1,129.1 M177.2,108.6 179.8,109.0 182.0,111.2 181.1,112.5 178.9,111.6Z M312.0,200.0 315.5,201.7 319.0,205.2 321.6,209.6 319.9,214.0 316.4,217.5 312.9,220.1 306.7,220.1 300.6,221.0 294.5,225.8 289.2,226.7 285.7,227.1 289.2,229.3 291.4,231.1 289.2,234.1 284.0,236.7 277.0,239.4 270.0,241.6 263.0,242.9 260.4,244.6 257.7,248.1 254.7,251.6 252.5,256.0 254.2,260.4 258.6,263.9 263.9,266.5 270.0,267.4 275.2,266.9 277.9,269.1 M249.9,219.7 254.2,218.8 258.6,217.9 260.4,215.7 264.7,212.2 267.4,210.9 272.6,211.4 276.1,213.6 280.5,216.2 282.2,221.0 282.7,226.2 277.0,227.6 270.0,228.4 264.7,230.2 257.7,231.5 250.7,232.8 251.2,227.1 249.0,222.7 M235.0,234.1 237.6,239.4 239.4,243.7 244.6,247.2 249.9,251.6 253.4,256.9 257.7,262.1 263.0,266.5 269.1,269.1 M240.2,200.0 242.9,203.5 247.2,204.4 M217.9,293.2 212.6,293.6 206.5,294.9 197.7,297.1 187.2,299.7 179.4,298.4 171.5,297.6 168.9,298.0 168.0,301.1 171.5,304.1 175.0,307.6 178.5,311.1 183.7,314.6 189.0,318.1 195.1,322.5 201.2,326.9 208.2,331.2 215.2,336.5 219.6,340.0 M182.0,308.5 185.5,312.0 190.7,316.4 196.0,320.7 202.1,325.1 210.0,329.5 217.9,334.7 223.1,340.0 M110.7,322.5 112.9,326.0 110.7,328.6 M271.7,270.4 278.7,272.6 287.5,275.7 296.2,277.4 305.0,278.3 313.7,277.9 322.5,276.6 331.2,275.2 340.0,274.4 348.7,273.5 357.5,272.2 361.9,271.3 362.7,273.9 357.5,277.9 352.2,281.4 351.4,284.9 354.9,289.2 354.0,290.6 347.0,291.4 340.0,293.2 333.0,294.9 326.0,296.7 319.0,296.2 312.0,295.4 305.0,294.1 296.2,293.2 287.5,293.6 278.7,294.9 270.0,296.2 261.2,297.1 252.5,296.7 243.7,294.1 235.0,291.0 M279.6,270.4 284.0,273.5 294.5,276.6 303.2,278.3 313.7,279.6 322.5,280.5 331.2,280.1 338.2,280.5 344.4,282.2 348.7,283.1 M235.0,288.8 243.7,290.1 252.5,291.0 261.2,291.4 270.0,290.1 275.2,289.2 280.5,292.7 287.5,296.2 292.7,299.3 296.2,300.6 291.9,302.4 291.4,304.6 296.2,307.6 303.2,308.1 305.0,311.1 302.4,313.3 298.0,312.9 294.5,310.2 291.0,307.6 M303.2,301.5 301.5,305.0 299.7,307.6 M303.2,301.5 310.2,298.0 317.2,296.2 M251.6,63.9 249.9,68.7 247.2,74.0 247.2,75.7 242.9,81.0 238.5,85.4 235.0,88.9 M339.5,63.9 343.5,67.4 345.7,70.5 344.8,75.7 343.5,82.7 338.2,84.5 331.2,86.7 326.0,88.4 319.0,90.2 311.1,91.5 305.0,93.7 299.7,96.7 294.5,101.1 290.1,105.5 283.1,107.7 276.1,110.7 270.0,113.4 263.9,117.3 261.2,121.2 259.5,125.6 253.8,129.1 M270.9,130.0 276.1,126.5 277.9,123.0 282.2,119.5 287.5,115.1 292.7,114.1 298.9,114.7 303.2,116.9 305.9,121.2 307.6,122.6 313.7,122.1 320.7,120.4 327.7,118.2 331.2,116.9 M336.5,111.6 342.6,109.0 347.9,106.4 352.2,103.7 355.7,102.9 M359.2,112.5 361.9,121.2 362.7,125.6 361.4,130.0 M484.9,63.9 481.4,69.6 481.8,75.3 477.9,80.1 473.5,84.1 469.1,87.1 466.5,90.6 461.2,93.2 456.0,95.4 449.0,95.4 442.0,95.9 438.5,95.0 434.1,94.6 428.9,95.4 425.4,93.2 420.1,91.9 417.5,87.1 413.1,85.4 410.5,81.9 M378.1,63.9 379.0,68.7 382.5,74.9 386.9,81.0 391.2,85.4 395.6,89.7 400.0,95.0 404.4,101.1 408.7,107.2 412.2,112.5 412.7,116.9 410.5,121.2 408.7,125.2 410.9,127.8 411.4,130.0 M389.5,63.9 393.9,67.9 400.0,74.0 M370.2,85.4 374.6,85.8 374.2,86.7 370.7,86.2Z M595.2,63.9 595.6,69.6 597.4,75.3 595.2,81.0 594.3,87.1 592.5,93.2 587.7,98.5 585.1,102.9 580.7,108.1 576.4,112.5 571.1,116.4 564.1,118.6 556.2,121.2 549.2,123.4 544.0,125.2 541.4,130.0 M129.5,130.4 122.5,132.6 115.5,134.4 119.0,138.3 122.5,141.4 125.1,140.9 123.4,143.6 126.0,147.5 130.4,150.6 132.6,152.3 127.7,157.6 119.9,158.4 110.7,159.7 M110.7,166.7 119.0,168.5 127.7,170.2 136.5,172.0 145.2,173.3 150.5,170.2 154.0,166.7 156.2,163.7 152.2,160.2 146.1,158.0 157.5,155.8 166.2,154.1 175.0,153.2 182.0,154.5 189.0,155.4 196.0,153.6 203.0,151.9 210.0,149.7 215.2,146.6 222.2,144.0 229.2,141.8 235.0,139.6 M180.2,168.9 182.0,163.7 189.0,162.8 196.0,162.4 201.2,163.7 208.2,163.7 215.2,161.5 220.5,159.3 227.5,158.9 235.0,158.0 M180.2,168.9 187.2,167.6 194.2,166.7 201.2,165.9 210.0,165.0 218.7,164.6 M216.1,199.5 221.4,199.1 227.5,200.0 M235.0,139.2 242.0,135.2 247.2,132.2 253.4,130.9 M235.0,146.6 242.0,142.2 250.7,139.6 257.7,137.0 258.6,139.6 253.4,144.0 247.2,147.5 M245.5,153.2 256.9,152.7 265.6,153.6 267.4,151.4 273.5,148.8 280.5,147.1 287.5,145.7 296.2,145.7 295.8,150.1 292.7,154.5 287.5,158.0 280.5,160.2 272.6,161.1 266.5,162.4 260.4,165.4 254.2,167.6 248.1,168.9 242.0,169.4 M243.7,152.7 252.5,151.9 261.2,151.0 270.0,147.5 274.4,146.2 M238.5,194.7 245.5,191.2 252.5,189.5 261.2,186.9 270.0,184.7 278.7,183.4 287.5,182.9 292.7,185.1 298.0,186.9 302.4,187.3 M251.6,181.6 256.9,179.0 263.9,177.7 271.7,178.6 278.7,180.3 285.7,182.5 292.7,186.0 M251.6,181.6 254.2,184.2 252.5,189.5 250.7,193.9 245.5,196.5 239.4,198.2 M324.2,155.4 326.9,150.1 333.9,145.3 340.0,148.4 346.1,151.9 353.1,153.6 359.2,156.2 365.0,158.9 M326.0,155.4 327.7,160.6 330.4,165.9 331.2,171.1 333.0,173.7 M312.9,173.7 315.5,169.4 319.0,165.0 322.5,158.9 325.1,155.4 M285.7,200.0 289.2,196.5 294.5,193.0 298.0,190.4 M347.9,130.0 349.6,135.2 353.1,139.6 357.5,143.1 361.9,144.9 365.0,145.7 M361.0,130.0 362.7,133.5 365.0,135.2 M410.5,130.0 408.7,132.6 409.6,135.7 414.0,137.9 421.0,138.3 422.7,140.5 426.2,141.8 431.5,144.0 436.7,146.6 436.3,151.4 434.1,154.9 426.2,158.0 418.4,162.4 412.2,163.2 405.2,164.1 401.7,162.8 393.9,160.6 390.4,158.0 386.0,154.5 382.5,151.0 378.1,148.4 373.7,145.7 370.2,139.6 365.0,135.7 M365.0,161.5 369.4,160.6 372.9,165.0 373.3,169.4 370.2,173.7 365.0,177.2 M365.0,164.1 368.5,163.2 371.1,166.7 370.2,171.1 365.0,174.6 M542.7,130.0 538.7,134.4 537.9,139.6 533.5,145.7 529.1,151.9 528.7,157.1 525.6,164.1 523.0,169.4 524.3,174.6 519.5,180.7 519.1,186.0 516.9,193.0 514.2,200.0 M495.0,144.9 496.7,146.6 495.0,152.7 M621.0,200.0 625.0,197.4 M150.5,203.5 159.2,203.1 168.0,203.5 175.0,204.4 182.0,205.2 189.0,207.9 191.2,210.5 189.9,215.7 191.2,219.2 189.0,222.7 183.7,226.2 182.0,229.7 176.7,229.7 174.1,225.4 171.5,221.0 169.7,215.7 168.0,213.6 161.0,213.1 156.6,211.4 157.5,210.1 M205.6,210.5 209.1,206.1 213.5,201.7 217.0,200.0 M205.6,210.5 206.9,214.0 212.6,214.9 218.7,215.7 220.5,210.5 224.0,207.0 226.2,203.5 224.9,200.0 M214.4,218.8 212.6,222.7 210.0,226.2 210.9,228.9 217.9,229.7 225.7,229.3 231.0,230.6 235.0,233.2 M229.2,200.0 231.9,202.6 235.0,203.5 M978.6,63.6 966.1,75.4 952.5,91.3 938.9,107.1 925.3,120.7 916.3,132.1 911.7,145.7 909.5,157.0 901.5,172.9 889.1,193.3 893.6,200.1 886.8,213.7 882.3,227.3 M900.4,181.9 904.9,195.5 909.5,209.1 912.9,235.0 M1115.7,63.6 1102.1,67.5 1090.8,75.4 1079.5,86.7 1068.1,98.1 1059.1,109.4 1061.3,120.7 1061.3,134.3 1065.9,150.2 1072.7,163.8 1074.9,175.1 1072.7,186.5 1074.9,200.1 1072.7,213.7 1079.5,235.0 M1122.5,181.9 1133.9,185.3 1132.7,191.0 1122.5,193.3 1119.1,204.6 M1129.3,193.3 1138.4,204.6 1145.2,213.7 1158.8,222.7 1167.9,235.0 M1123.7,211.4 1122.5,222.7 1127.1,227.3 1140.7,231.8 1147.5,235.0 M700.1,464.0 703.7,464.1 712.5,463.6 718.6,466.2 718.6,470.6 710.7,474.1 709.9,477.6 706.4,481.1 706.4,484.6 719.5,484.6 725.6,488.1 729.1,492.5 726.5,496.9 716.0,500.4 707.2,503.3 698.5,503.0 697.6,497.7 702.0,494.2 699.4,491.6 693.2,491.6 685.4,491.6 M707.2,527.5 712.5,522.2 721.2,517.0 731.7,513.8 738.7,515.2 746.2,516.1 744.0,522.2 738.7,530.1 730.0,532.7 719.5,535.4 710.7,532.7 708.1,530.1Z M629.0,490.0 632.0,491.6 639.9,496.0 647.7,495.6 657.4,492.5 660.0,487.2 669.6,482.0 674.0,482.9 681.0,486.4 685.4,491.6 M850.0,482.0 860.5,482.9 871.0,485.8 881.5,484.6 890.2,480.2 902.5,478.5 916.5,477.6 923.5,475.9 930.5,473.6 939.2,475.0 949.7,478.1 959.4,477.6 963.7,482.0 972.5,484.6 983.0,484.6 993.5,483.4 1004.0,481.1 1011.8,476.7 1019.7,479.4 1028.5,484.6 1039.0,485.8 1047.7,489.9 1056.5,492.5 1068.7,490.7 1081.0,489.9 1089.7,491.6 1098.5,490.7 1110.0,488.1 1118.0,480.1 M513.4,200.0 512.5,210.0 510.7,217.0 512.5,225.7 506.4,232.7 505.5,243.2 506.4,253.7 504.6,266.0 506.4,278.2 503.7,288.7 509.0,299.2 510.7,309.7 514.2,318.5 519.5,325.5 528.2,329.0 535.2,332.5 531.7,339.5 531.7,348.2 M519.5,200.0 517.7,210.0 514.2,220.5 509.0,232.7 512.5,245.0 516.0,255.5 513.4,262.5 M619.2,200.0 615.7,210.0 608.7,218.7 607.0,231.0 610.5,238.0 617.5,243.2 626.2,250.2 635.0,253.7 642.0,260.7 650.0,269.5 M519.5,295.7 526.5,304.5 533.5,315.0 538.7,325.5 542.2,336.0 547.5,348.2 M549.2,329.0 552.7,322.0 558.0,316.7 565.0,315.0 572.0,316.7 572.0,322.0 566.7,327.2 558.0,330.7 551.0,329.9Z M654.0,200.0 662.7,207.0 671.5,215.7 682.0,228.0 692.5,238.5 704.7,247.2 717.0,254.2 729.2,259.5 741.5,263.0 753.7,267.4 766.0,270.0 778.2,273.5 788.7,280.5 792.2,285.7 795.7,291.0 804.5,286.6 813.2,285.7 818.5,287.5 820.2,294.5 825.5,299.7 836.0,303.2 846.5,305.0 857.0,305.9 865.7,305.0 874.5,299.7 881.5,294.5 886.7,287.5 890.2,278.7 888.5,268.2 892.0,261.2 900.0,256.0 M788.7,280.5 794.0,291.0 794.0,298.0 801.0,298.9 797.5,295.4 M879.7,221.0 871.0,235.0 865.7,247.2 864.0,259.5 857.0,270.0 853.5,277.0 858.7,287.5 865.7,294.5 867.5,305.0 M783.5,314.6 787.0,316.4 788.7,320.7 776.5,320.7 769.5,326.0 767.7,333.0 780.0,329.5 792.2,328.6 802.7,333.0 811.5,338.2 M811.5,319.0 815.0,317.2 820.2,322.5 816.7,324.2Z M640.0,257.7 647.0,270.0 654.0,278.7 661.0,291.0 664.5,303.2 671.5,312.0 675.0,322.5 676.7,333.0 677.6,340.0 M642.7,63.8 638.4,70.5 637.5,76.6 632.2,84.5 627.0,93.2 620.0,98.5 M620.0,200.0 627.0,196.5 637.5,194.7 648.0,194.7 658.5,199.1 M621.7,200.0 630.5,197.9 644.5,196.5 655.0,200.0" fill="none" stroke="#ff0000" stroke-width="1.45" stroke-linejoin="round" stroke-linecap="round"/>
<path d="M843.0,339.9 845.4,344.1 841.1,351.0 842.8,356.2 832.4,358.3 M1200.0,342.2 1204.0,343.0 1210.0,344.5 M1210.0,441.5 1206.0,445.0 1202.0,450.0 1196.0,455.0 1190.0,459.0 1184.0,462.0 1178.0,465.0 1172.0,469.0 1166.0,472.0 1160.0,474.0 1152.0,476.0 1146.0,479.0 1142.0,480.0 M1087.0,242.0 1090.0,246.0 1095.0,253.0 1100.0,260.0 1105.0,267.0 1111.0,274.0 1117.0,280.0 M1116.0,280.0 1120.0,286.0 1122.0,293.0 1124.0,300.0 1124.0,304.0 1132.0,305.0 1138.0,307.0 1143.0,312.0 1147.0,318.0 1150.0,324.0 1155.0,330.0 1160.0,334.0 1168.0,338.0 1176.0,340.0 1184.0,340.0 1190.0,340.5 M1070.0,314.0 1078.0,318.0 1085.0,323.0 1093.0,327.0 M399.0,400.4 402.5,397.3 409.5,396.0 413.9,396.0 420.0,397.3 428.7,397.7 440.0,399.5 M399.9,439.3 406.9,440.2 414.7,439.7 423.5,440.2 432.2,441.1 440.0,442.8 M216.8,383.2 218.2,384.6 M110.7,614.9 116.4,612.5 124.5,611.7 131.0,612.5 133.4,616.6 131.0,623.9 128.6,626.3 131.0,632.0 135.9,636.9 139.1,645.0 143.2,658.0 139.1,667.7 139.9,674.2 135.9,680.7 132.6,687.2 131.8,693.7 124.5,697.0 114.7,701.1 110.7,702.7 M110.7,619.0 116.4,617.4 124.5,611.7 M146.1,80.1 147.0,86.2 146.6,91.5 147.0,98.5 147.9,103.7 149.6,108.1 152.2,112.5 150.5,116.0 148.7,121.2 147.0,126.5 145.7,129.5 M304.1,99.4 307.6,95.0 312.0,90.6 315.5,84.5 318.1,83.2 323.4,83.4 326.9,84.1 329.5,87.1 333.9,90.6 337.4,93.2 M304.1,99.4 303.2,102.9 305.9,105.1 311.1,107.2 317.2,109.4 323.4,110.7 329.5,109.9 335.6,106.4 340.0,103.7 345.2,102.0 M337.4,112.5 340.0,116.9 341.7,123.0 342.6,130.0 M410.5,75.7 415.7,79.2 421.0,82.7 426.2,86.2 431.5,89.3 436.7,91.5 441.1,93.2 442.0,95.4 448.1,97.2 454.2,98.1 461.2,98.5 468.2,98.9 476.1,98.5 481.4,97.2 486.6,95.9 490.1,93.2 495.0,90.6 M366.3,63.9 369.4,68.7 372.9,73.1 374.6,74.4 380.7,74.4 386.0,75.3 390.4,78.8 M413.1,107.2 419.2,110.3 425.4,112.9 429.7,115.6 435.0,117.7 440.2,119.5 M430.6,116.0 434.1,120.4 436.7,124.7 436.7,130.0 M530.9,63.9 529.1,68.7 524.7,74.0 520.4,77.5 516.0,81.0 512.5,84.5 508.1,85.4 502.9,86.2 498.5,88.9 495.0,91.1 M625.0,94.1 619.2,98.5 612.2,102.0 605.2,104.2 598.2,106.4 591.2,109.9 586.0,113.4 580.7,116.9 575.5,121.2 571.1,124.7 567.6,130.0 M326.9,151.0 335.6,152.7 344.4,153.6 353.1,152.7 359.2,157.1 365.0,159.7 M312.0,178.1 319.0,179.0 326.0,177.2 333.0,176.4 340.0,177.7 M355.7,130.0 357.5,135.2 359.2,139.6 361.0,144.0 365.0,147.5 M235.0,158.0 240.2,155.4 247.2,153.6 252.5,153.2 M567.6,130.0 564.1,133.5 561.5,137.9 558.0,143.1 554.5,147.5 550.1,153.6 545.7,158.0 545.3,162.4 543.1,166.7 539.6,172.0 536.1,177.2 531.7,181.6 530.0,187.7 528.2,192.1 523.9,196.5 521.2,200.0 M122.5,213.6 125.1,209.6 133.9,207.9 141.7,208.3 148.7,209.2 154.0,210.1 161.9,212.2 168.9,213.1 175.0,211.4 182.0,209.2 189.0,207.0 193.4,205.2 194.2,202.6 M126.9,217.1 135.6,216.6 144.4,217.9 152.7,216.2 156.6,221.0 159.2,224.5 158.4,233.2 M110.7,203.5 116.4,205.2 124.2,206.6 M111.1,467.6 116.9,472.0 111.1,476.4 M111.1,507.9 116.4,505.2 125.1,507.0 126.3,511.4 119.9,515.7 119.0,519.6 113.7,518.4 111.1,515.7 M700.1,468.9 710.7,474.1 719.5,481.1 728.2,486.4 738.7,490.7 747.5,494.2 761.5,494.2 772.0,490.7 782.5,485.8 793.0,483.7 803.5,482.9 812.2,481.6 822.7,483.7 833.2,485.8 842.0,485.1 850.0,483.7 M660.9,511.7 666.1,507.9 667.0,513.1Z M660.5,490.0 656.5,494.2 646.0,498.6 642.5,503.0 632.0,502.6 619.7,501.2 607.5,496.9 600.5,491.6 M850.0,483.7 858.7,487.2 867.5,490.7 879.7,488.1 893.7,487.2 906.0,486.4 913.0,482.0 923.5,482.9 934.0,486.4 948.0,488.1 962.0,488.1 976.0,488.1 988.2,487.2 1000.5,489.0 1012.7,486.4 1018.0,489.0 1025.0,492.5 1035.5,493.4 1046.0,492.5 1056.5,492.5 1067.0,489.0 1077.5,489.0 1084.5,490.7 1095.0,492.5 1102.0,488.1 1110.0,484.6 1122.9,482.0 1142.0,480.1" fill="none" stroke="#c80000" stroke-width="1.55" stroke-linejoin="round" stroke-linecap="round"/>
<path d="M700.1,390.6 707.9,393.9 716.0,395.5 718.4,398.7 709.5,397.9 700.1,395.5 M719.2,399.6 727.4,397.9 737.1,399.6 740.4,401.2 730.6,402.8 722.5,402.0Z M880.9,331.9 882.7,339.9 885.3,345.8 885.3,354.5 M662.7,339.9 661.1,345.8 661.3,351.7 M760.8,339.9 758.7,344.1 761.3,350.0 M1196.0,335.0 1204.0,337.0 1210.0,338.5 M1142.0,368.0 1150.0,364.0 1158.0,362.0 1163.0,355.0 1162.0,351.0 1159.0,349.0 M1152.0,380.0 1154.0,377.0 1160.0,376.0 1167.0,376.5 1172.0,378.0 1168.0,381.0 1162.0,384.0 1156.0,385.0Z M1210.0,433.0 1205.0,437.0 1200.0,441.0 1195.0,445.0 1189.0,447.5 1183.0,449.5 1177.0,453.0 1170.0,452.0 1165.0,451.0 1160.0,453.0 1154.0,455.0 1148.0,458.5 1144.0,462.0 1140.0,468.0 1136.0,472.0 1130.0,474.0 1124.0,477.0 1116.0,480.0 M1086.0,239.0 1090.0,243.0 1096.0,248.0 1101.0,254.0 1105.0,260.0 1109.0,266.0 1114.0,271.0 1119.0,277.0 1120.0,280.0 M1113.0,280.0 1117.0,285.0 1122.0,290.0 1124.0,297.0 1120.0,300.0 1114.0,303.0 1110.0,306.0 M1139.0,323.0 1142.0,320.0 1150.0,322.0 1160.0,324.0 1170.0,323.5 1180.0,323.0 1185.0,327.0 1188.0,330.0 M1126.0,310.0 1132.0,314.0 1137.0,313.0 1139.0,309.0 1137.0,304.0 M1072.0,315.0 1078.0,313.0 1086.0,314.0 1090.0,318.0 1086.0,322.0 1080.0,320.0 1072.0,320.0Z M1084.0,316.0 1088.0,324.0 1093.0,327.0 1099.0,323.0 M1108.0,350.0 1110.0,354.0 1116.0,356.0 1120.0,353.0 1126.0,349.0 1134.0,345.0 1140.0,342.0 1145.0,338.0 1143.0,334.5 M1143.0,334.5 1148.0,336.0 1151.0,339.0 1149.0,344.0 1155.0,346.0 1160.0,354.0 1161.0,360.0 M365.3,388.6 372.7,387.2 379.7,386.4 388.5,387.2 395.5,389.9 399.0,392.5 406.0,391.2 410.4,388.1 414.7,383.7 415.2,381.1 M365.3,388.6 367.5,390.7 373.6,394.7 373.6,400.4 375.4,404.3 379.7,406.0 385.0,407.4 390.2,406.5 395.5,403.0 399.0,400.4 399.9,394.2 M365.0,455.5 370.1,454.6 378.0,452.0 386.7,449.4 395.5,446.7 404.2,443.7 413.0,441.1 M399.9,438.9 406.0,438.0 413.0,436.2 420.0,434.9 428.7,435.4 437.5,434.5 440.0,434.2 M365.0,447.6 367.5,446.7 372.3,444.6 371.9,440.6 368.4,438.9 370.6,435.4 371.0,433.2 374.9,428.8 378.9,426.6 385.0,425.3 392.0,423.6 394.6,419.6 393.7,415.2 392.0,412.6 388.5,411.3 391.1,410.0 M204.7,338.7 213.5,349.2 218.7,356.2 231.0,363.2 245.0,368.5 259.0,372.0 269.5,377.2 280.0,380.7 290.5,386.0 299.2,391.2 301.0,396.5 309.7,405.2 313.2,414.0 320.2,415.7 330.7,417.5 337.7,421.0 348.2,424.5 350.0,431.5 343.0,435.0 344.7,445.5 353.5,452.5 365.0,455.1 M111.1,349.2 115.5,359.7 122.5,363.2 131.2,362.4 137.4,372.0 133.0,386.0 126.0,387.7 120.7,394.7 112.0,399.1 M535.4,350.0 531.0,358.7 522.2,367.5 517.0,374.5 517.9,381.5 524.0,385.0 534.5,389.4 545.0,392.9 559.0,393.7 573.0,392.0 587.0,391.1 601.0,390.2 615.0,392.9 629.0,391.1 643.0,392.9 657.0,395.5 671.0,397.2 685.0,399.0 700.0,400.7 M440.0,434.0 448.7,423.5 459.2,414.7 471.5,410.4 485.5,406.0 497.7,400.7 510.0,396.4 515.2,390.2 M440.0,398.1 450.5,400.7 459.2,405.1 465.4,407.7 472.4,400.7 469.7,392.9 475.0,386.7 483.7,381.5 492.5,376.2 501.2,374.5 M440.0,437.5 454.0,439.2 475.0,441.0 489.0,448.0 503.0,453.2 517.0,462.0 531.0,469.0 545.0,472.5 M661.3,351.7 660.5,358.7 665.7,362.2 664.0,367.5 671.0,371.0 681.5,373.6 M148.1,636.1 150.5,631.2 158.6,627.1 165.1,623.9 173.2,625.8 181.4,628.4 186.2,630.4 184.6,635.2 181.4,640.1 176.5,644.2 170.0,645.0 160.2,643.4 152.1,640.1Z M150.5,618.2 155.4,614.9 157.8,614.1 157.0,616.6 152.1,620.6 147.2,625.5 144.0,632.0 137.5,636.1 132.6,641.7 127.7,648.2 122.9,654.7 119.6,659.6 110.7,664.5 M122.1,63.9 120.7,68.7 119.0,73.1 116.8,76.2 113.7,78.8 112.0,82.7 110.7,85.4 M133.9,63.9 136.9,66.6 139.1,70.5 140.9,74.0 143.5,77.5 146.1,80.1 143.5,81.9 140.0,83.6 138.7,86.2 139.6,89.7 140.4,93.2 138.2,95.0 136.5,97.6 137.8,101.1 140.0,105.5 141.3,110.3 144.4,112.9 147.9,115.6 M203.9,63.9 208.2,67.9 212.6,72.2 217.9,76.6 222.2,80.1 223.5,81.4 221.8,84.5 221.4,88.0 217.9,90.2 213.5,91.5 210.4,94.1 211.3,97.6 211.7,99.8 M235.0,203.9 242.9,204.4 250.7,205.2 257.7,207.0 264.7,209.6 270.0,212.2 275.2,214.9 278.7,215.7 M280.9,203.9 280.5,208.7 282.2,213.1 283.6,215.7 M205.6,298.9 197.7,302.4 189.0,304.6 182.0,305.9 179.4,308.5 179.4,312.0 182.0,315.5 182.0,319.0 181.1,322.5 182.9,326.9 186.4,331.2 190.7,335.6 196.0,340.0 M183.7,309.4 188.1,314.6 192.5,319.0 196.9,323.4 201.2,327.7 M235.0,285.3 243.7,283.6 249.9,285.3 254.2,286.6 252.5,291.0 259.5,292.7 266.5,291.4 275.2,290.6 280.5,293.2 287.5,295.8 294.5,298.4 301.5,301.1 308.5,299.7 315.5,298.0 322.5,297.1 329.5,296.2 333.9,295.4 335.6,290.1 336.5,285.7 M248.1,293.6 256.9,297.1 268.2,295.4 278.7,294.1 287.5,293.2 296.2,293.6 M336.5,285.7 344.4,284.9 352.2,283.1 359.2,280.5 365.0,278.3 M331.2,63.9 332.5,68.7 331.7,73.1 330.8,77.5 332.1,81.0 M312.9,109.0 313.7,103.7 312.0,99.4 311.1,97.6 315.5,94.6 321.6,93.2 326.9,92.8 327.7,89.7 M307.6,130.0 306.7,121.2 309.4,116.0 312.0,112.5 312.9,109.0 M352.2,63.9 352.7,68.7 352.2,73.1 353.5,77.5 354.9,82.7 354.0,88.0 350.5,92.4 348.7,95.0 M352.2,110.7 357.5,112.5 359.2,116.9 357.5,123.0 355.7,124.7 357.5,130.0 M335.6,109.9 340.0,114.2 342.6,119.5 344.4,124.7 345.2,130.0 M400.9,63.9 403.5,68.7 407.0,72.2 410.5,75.7 410.5,81.9 M367.6,80.1 373.7,79.2 382.5,78.4 386.0,81.0 390.4,83.6 396.5,84.5 402.6,84.9 M411.4,103.7 415.7,104.6 420.1,105.9 419.2,107.7 414.9,106.4 412.7,105.9 M429.7,116.0 432.4,121.2 434.1,124.7 437.6,130.0 M435.9,125.6 441.1,125.6 445.5,123.9 448.1,122.6 M538.7,63.9 539.6,68.7 541.8,72.2 542.7,77.5 542.2,82.7 544.0,85.4 540.5,89.7 537.0,95.0 531.7,99.4 528.2,102.0 523.0,103.7 517.7,107.2 512.5,111.6 506.4,116.0 498.5,122.1 496.7,123.0 498.5,126.5 496.7,130.0 M625.0,104.6 617.5,108.1 611.4,111.6 605.2,116.0 598.2,120.4 592.1,123.9 587.7,126.5 585.1,130.0 M135.6,130.0 136.9,134.4 135.2,138.7 135.6,143.1 137.8,147.5 138.7,151.4 141.7,155.4 144.4,158.9 146.1,161.5 145.2,162.8 M132.6,146.2 136.5,144.0 134.7,147.9 140.0,150.6 146.1,153.2 154.0,152.3 159.2,151.0 164.5,148.8 169.7,148.8 175.0,150.6 181.1,151.0 189.0,149.7 196.0,147.9 204.7,146.6 213.5,145.7 222.2,144.9 229.2,144.0 235.0,143.6 M155.7,163.7 161.9,163.2 168.9,161.5 177.6,160.2 186.4,159.3 195.1,159.3 201.2,160.2 208.2,161.1 210.0,158.0 214.4,156.2 219.6,155.8 M196.9,172.0 201.2,173.7 210.0,172.9 218.7,172.4 224.0,172.9 M227.5,179.0 222.2,181.2 215.2,183.4 210.0,186.0 205.6,189.5 199.5,192.1 192.5,193.9 186.4,196.0 182.9,200.0 M235.0,143.6 240.2,141.4 247.2,137.9 255.1,135.7 263.9,134.4 270.0,132.6 273.5,130.0 M235.0,171.1 240.2,166.7 243.7,161.5 249.0,156.2 243.7,157.1 240.2,154.5 238.5,150.1 242.9,147.9 M241.1,166.7 247.2,167.6 254.2,165.0 261.2,160.6 270.0,159.7 277.0,158.0 282.2,155.4 285.7,151.9 284.9,149.2 M289.2,170.2 292.7,173.7 296.2,179.0 299.7,184.2 301.5,189.5 305.0,194.7 307.6,199.1 M314.2,130.0 315.5,135.2 318.1,139.6 322.5,142.2 326.0,143.1 M340.9,130.0 341.7,134.4 346.1,136.1 348.7,141.4 351.4,144.9 357.5,148.4 361.9,151.9 365.0,152.7 M325.1,155.4 322.5,158.9 321.6,164.1 319.0,168.5 316.4,173.7 315.5,177.2 M319.9,167.6 326.0,167.6 331.2,165.0 334.7,161.5 336.5,157.1 M322.5,179.0 327.7,180.7 333.9,179.9 340.0,178.1 347.0,179.0 M355.7,175.5 361.0,172.9 365.0,172.0 M235.0,179.9 240.2,179.0 245.5,179.4 247.2,180.7 245.5,184.2 242.0,187.7 238.5,190.4 235.0,191.2 M365.0,144.0 372.0,141.8 379.0,140.5 387.7,144.0 397.4,148.4 405.2,148.2 414.0,147.9 422.7,146.2 426.2,143.1 430.6,140.5 440.2,140.3 442.0,143.1 441.1,146.2 436.7,147.5 431.5,148.4 423.6,148.4 M433.2,130.0 435.0,133.5 433.7,138.3 440.2,140.5 451.6,144.9 462.1,144.4 468.2,147.5 473.5,151.9 473.9,155.4 472.2,158.9 477.0,161.1 483.1,163.2 491.0,160.2 493.6,156.2 495.0,150.1 M365.0,146.6 370.2,148.8 382.5,149.2 384.7,158.0 391.2,161.1 401.7,161.5 408.7,160.2 416.6,158.0 421.0,154.5 427.1,151.9 M451.6,140.9 456.0,139.2 462.1,139.6 468.7,140.5 461.2,142.2 455.1,141.8Z M495.0,137.9 493.6,141.4 495.0,144.0 M584.2,130.0 578.1,133.5 576.8,138.7 572.9,144.0 567.6,149.2 564.1,153.6 560.6,158.0 560.2,162.4 558.0,167.6 555.4,172.0 551.9,175.1 552.7,178.1 554.5,180.7 551.0,186.0 546.6,191.2 544.9,194.7 546.2,200.0 M496.7,130.0 495.9,135.2 495.0,138.7 M110.7,221.0 118.1,220.1 126.9,218.4 134.7,218.8 141.7,220.6 148.7,223.2 155.7,224.5 162.7,224.9 168.0,226.2 170.6,229.7 172.4,233.7 M110.7,206.6 117.2,207.4 124.2,206.1 133.9,205.7 141.7,205.2 150.5,205.7 157.5,207.0 M158.4,233.2 159.2,235.0 161.9,238.5 168.0,239.8 175.0,240.7 182.0,240.7 186.4,237.6 189.9,235.4 M191.6,230.6 192.5,226.2 197.7,223.6 205.6,221.4 214.4,219.7 M187.2,232.8 196.0,231.1 204.7,230.2 213.5,229.3 222.2,228.0 229.2,227.1 235.0,228.9 M182.0,200.0 183.7,201.7 189.0,201.3 191.6,200.0 M1001.3,63.6 988.8,75.4 975.2,89.0 963.9,100.3 950.3,113.9 941.2,123.0 927.6,141.1 914.0,157.0 917.4,166.1 909.5,186.5 902.7,211.4 891.3,235.0 M1095.3,63.6 1084.0,79.9 1072.7,93.5 1061.3,107.1 1056.8,113.9 1059.1,123.0 1054.5,138.9 1059.1,154.7 1063.6,168.3 1064.7,181.9 1068.1,195.5 1072.7,209.1 1077.2,222.7 1081.7,235.0 M1152.0,196.7 1163.3,198.9 1167.9,204.6 1163.3,211.4 1155.4,209.1Z M1161.1,202.3 1174.7,201.2 1178.1,208.0 1167.9,210.3Z M1182.6,212.5 1196.2,217.1 1193.9,227.3 1183.7,223.9Z M1174.7,227.3 1186.0,222.7 1197.3,225.0 1198.5,235.0 M700.1,468.0 709.0,469.7 717.7,475.0 728.2,477.6 737.0,475.0 744.8,474.1 752.7,477.6 763.2,482.0 772.0,485.1 782.5,485.5 793.0,485.8 800.0,480.2 805.2,476.7 817.5,472.4 827.1,470.1 835.0,474.1 842.0,476.7 850.0,475.0 M590.0,487.2 592.6,488.1 593.5,492.5 600.5,491.6 612.7,489.9 625.0,492.5 639.0,493.4 649.5,491.6 660.0,487.2 M850.0,478.5 858.7,482.0 871.0,483.7 883.2,482.0 895.5,481.1 907.7,481.1 918.2,479.4 928.7,482.0 939.2,484.6 951.5,486.4 962.0,488.1 970.7,492.5 977.7,496.9 988.2,497.7 998.7,495.1 1007.5,491.6 1016.2,496.0 1026.7,496.0 1037.2,492.5 1047.7,490.7 1058.2,489.0 1068.7,488.1 1079.2,486.4 1088.0,483.7 1098.5,482.0 1107.2,483.7 1110.0,483.7 1115.9,480.1 M519.5,287.0 517.7,295.7 521.2,308.0 524.7,318.5 528.2,329.0 535.2,334.2 533.5,343.0 M621.0,200.0 617.5,210.0 610.5,218.7 607.8,231.0 608.7,243.2 614.0,253.7 621.0,262.5 629.7,269.5 638.5,274.7 650.0,285.2 M640.0,252.5 645.2,261.2 652.2,271.7 659.2,282.2 662.7,292.7 663.6,305.0 661.0,313.7 662.7,322.5 659.2,329.5 664.5,334.7 662.7,340.0 M785.2,287.5 794.0,296.2 804.5,301.5 815.0,305.0 825.5,306.7 836.0,307.6 850.0,307.6 860.5,308.5 867.5,312.0 874.5,322.5 872.7,331.2 874.5,340.0 M760.7,340.0 766.0,331.2 773.0,322.5 783.5,320.7 794.0,322.5 804.5,327.7 815.0,333.0 825.5,334.7 841.2,334.7 843.0,340.0 M620.0,106.4 627.0,102.9 634.0,99.4 635.7,93.2 641.0,86.2 648.0,77.5 652.4,70.5 651.5,63.8" fill="none" stroke="#800000" stroke-width="1.70" stroke-linejoin="round" stroke-linecap="round"/>
<path d="M700.1,366.2 704.6,369.5 712.7,376.0 720.9,381.7 726.6,384.9 M700.1,384.9 714.4,386.6 729.0,388.2 737.1,387.4 M759.9,350.0 766.4,354.9 777.7,358.9 790.7,362.2 803.7,363.0 820.0,363.3 836.2,362.2 852.5,360.6 868.7,358.9 881.7,357.3 885.8,354.1 883.4,350.0 M766.0,336.4 763.9,342.3 759.9,350.0 M874.5,339.9 879.2,344.1 883.4,350.0 M678.5,339.9 678.0,350.0 M1108.0,351.0 1113.0,347.0 1120.0,346.0 1128.0,345.0 1136.0,344.0 1144.0,343.5 1150.0,344.5 M1107.0,350.0 1112.0,354.0 1117.0,359.0 1123.0,363.0 1130.0,366.0 1137.0,369.0 1145.0,372.0 1152.0,374.5 1160.0,375.0 1169.0,376.5 1172.0,378.0 1169.0,381.0 1164.0,384.0 1159.0,385.5 1154.0,384.0 M1190.0,360.0 1196.0,357.0 1200.0,359.0 M1196.0,333.0 1195.0,340.0 1195.0,346.0 1188.0,349.0 1182.0,351.0 1180.0,354.0 M1155.0,348.0 1158.0,353.0 1160.0,360.0 1161.0,367.0 1162.0,373.0 1160.0,376.0 1157.0,380.0 1156.0,384.0 M1210.0,429.0 1206.0,431.0 1204.0,435.0 1203.0,438.0 1199.0,442.0 1195.0,446.0 1188.0,447.0 1182.0,446.0 1176.0,446.5 1170.0,448.0 1164.0,450.0 1158.0,451.0 1152.0,453.0 1146.0,457.5 1142.0,462.0 1138.0,466.0 1134.0,470.0 1128.0,473.0 1120.0,475.0 1110.0,477.0 1100.0,479.0 1093.0,480.0 M1210.0,410.5 1205.0,412.0 1202.0,415.0 M1088.0,237.0 1092.0,241.0 1099.0,247.0 1104.0,255.0 1107.0,263.0 1113.0,269.0 1119.0,273.0 1122.0,280.0 M1210.0,279.0 1216.0,280.0 M1121.0,280.0 1125.0,286.0 1130.0,291.0 1136.0,295.0 1137.0,297.5 1130.0,298.5 1124.0,301.0 1120.0,305.0 M1132.0,304.0 1138.0,303.0 1142.0,308.0 1146.0,313.0 1150.0,318.0 1155.0,322.0 1160.0,326.0 1164.0,331.0 1162.0,336.0 1158.0,339.0 1159.0,342.0 1165.0,343.0 1169.0,348.0 1175.0,352.0 1180.0,354.0 1183.0,357.0 1190.0,356.0 M1161.0,300.0 1163.0,297.5 1170.0,297.0 1175.0,301.0 1180.0,306.0 1185.0,311.0 1190.0,315.0 M1161.0,300.0 1164.0,305.0 1169.0,310.0 1173.0,315.0 1178.0,318.0 1183.0,320.0 1187.0,325.0 1190.0,328.0 M1180.0,354.0 1182.0,350.0 1190.0,348.0 M1071.0,313.0 1076.0,310.0 1083.0,309.0 1090.0,311.0 1094.0,315.0 1098.0,313.0 1101.0,317.0 1098.0,321.0 1100.0,326.0 1101.0,330.0 1095.0,332.0 1086.0,330.0 M365.0,451.1 370.1,452.9 376.2,452.4 385.0,449.8 393.7,447.2 404.2,444.1 413.0,441.5 421.7,439.3 428.7,438.4 437.5,438.9 440.0,439.3 M437.5,438.9 435.3,443.7 434.4,448.5 435.3,452.0 440.0,453.0 M192.5,338.7 203.0,347.5 213.5,356.2 227.5,361.5 243.2,367.6 259.0,373.7 273.0,379.0 285.2,382.5 297.5,387.7 309.7,394.7 320.2,400.0 327.2,400.0 334.2,408.7 341.2,417.5 350.0,426.2 357.0,431.5 360.5,438.5 353.5,445.5 357.0,450.7 365.0,454.2 M224.0,400.9 220.5,408.7 217.9,415.7 222.2,421.0 227.5,426.2 231.0,429.7 225.7,435.0 220.5,438.5 231.0,439.4 235.3,446.4 238.8,443.7 234.5,438.5 238.0,431.5 234.5,424.5 232.7,419.2 239.7,414.0 248.5,410.5 245.0,405.2 M111.1,396.5 117.2,400.0 120.7,405.2 115.5,407.0 M204.7,383.2 206.5,384.6 M541.5,350.0 535.4,357.0 529.2,362.2 527.5,369.2 531.0,378.0 534.5,385.0 541.5,390.2 552.0,392.9 562.5,390.2 573.0,387.6 587.0,384.1 601.0,381.5 615.0,382.4 629.0,383.2 643.0,385.0 657.0,383.2 671.0,379.7 681.5,376.2 692.0,381.5 700.0,386.7 M440.0,451.5 450.5,455.0 464.5,457.6 478.5,457.6 492.5,458.5 506.5,462.0 518.7,463.7 531.0,469.0 545.0,472.5 559.0,476.0 573.0,479.5 587.0,480.3 601.0,482.1 615.0,484.7 625.5,485.6 639.5,484.7 646.5,478.6 658.7,472.5 672.7,470.7 685.0,469.0 700.0,469.9 M678.0,350.0 683.2,355.2 692.0,358.7 700.0,364.0 M110.7,616.6 114.7,614.9 115.6,610.1 119.6,606.8 126.1,604.4 135.9,606.8 144.8,609.2 148.9,613.3 150.5,618.2 148.9,623.1 142.4,625.5 140.7,630.4 137.5,634.4 131.0,637.7 120.4,641.4 117.2,646.6 110.7,651.5 M116.4,610.1 122.9,610.1 131.0,613.3 139.9,616.6 144.8,619.0 148.9,613.3 M152.2,63.9 152.7,68.7 151.8,74.9 150.9,80.1 151.4,86.2 152.2,90.6 153.1,94.1 150.5,96.7 146.1,98.5 143.9,101.1 144.8,104.6 147.9,109.0 150.5,113.4 152.7,116.9 154.4,120.4 156.2,123.0 154.0,125.2 148.7,127.8 146.1,129.5 M128.6,63.9 127.9,68.7 129.9,71.4 129.5,75.3 126.0,77.9 121.2,81.0 116.4,80.3 111.6,81.0 M169.7,63.9 170.2,67.0 168.4,69.2 170.2,70.9 175.0,72.7 179.4,74.9 183.7,78.8 188.1,82.7 192.5,87.1 196.9,86.7 202.1,85.8 204.7,82.7 206.9,80.1 210.9,77.9 213.5,74.0 215.7,70.9 217.0,68.7 215.7,63.9 M235.0,201.7 243.7,202.2 252.5,203.1 260.4,204.4 268.2,206.1 271.7,208.7 276.1,211.8 279.6,214.0 282.7,216.2 289.2,214.9 296.2,212.2 300.6,209.2 301.5,206.6 M235.0,228.0 242.0,228.9 246.4,232.4 252.5,236.7 257.7,240.7 263.0,244.6 265.6,250.3 270.0,254.2 273.5,256.9 280.5,259.5 287.5,260.4 295.4,260.8 301.5,263.0 308.5,266.5 313.7,268.2 322.5,267.8 331.2,266.9 340.0,265.6 348.7,265.2 357.5,264.7 365.0,264.7 M235.0,240.2 240.2,242.9 245.5,246.4 250.7,250.7 255.1,255.1 261.2,257.7 270.0,260.4 278.7,263.0 287.5,265.6 296.2,267.4 305.0,269.1 M272.6,201.7 278.7,203.5 285.7,205.7 291.9,207.0 298.0,205.2 305.0,203.5 307.2,200.0 M235.0,208.3 240.2,207.0 245.5,206.1 249.4,202.6 251.2,200.0 M216.1,291.0 210.0,294.5 205.6,298.9 200.4,303.2 196.0,307.6 194.2,312.0 195.5,316.4 196.0,321.6 197.7,326.0 196.9,328.6 200.4,333.0 203.9,337.4 205.6,340.0 M235.0,279.6 242.9,278.7 249.9,278.3 254.2,284.0 257.7,288.8 262.1,293.6 267.4,298.0 272.6,302.8 278.7,305.0 285.7,305.9 292.7,307.2 300.6,307.6 308.5,306.3 315.5,305.4 321.2,305.0 322.9,300.2 321.6,295.4 M314.6,289.7 322.5,287.5 331.2,285.3 340.0,284.0 348.7,282.2 357.5,279.6 365.0,277.0 M314.6,289.7 319.0,293.2 322.5,294.1 M365.0,264.9 374.4,265.3 383.1,266.2 387.5,267.1 390.5,268.8 389.2,272.7 385.7,274.1 378.7,275.8 371.7,277.6 365.0,279.3 M235.0,65.7 242.0,65.1 247.2,63.9 M361.0,63.9 361.0,68.7 362.7,73.1 365.0,76.2 M285.7,130.0 287.5,125.6 291.0,121.2 296.2,116.9 301.5,113.8 307.6,111.2 312.9,109.4 317.2,107.7 319.9,104.6 320.3,99.4 323.4,95.0 326.9,90.2 329.0,85.8 331.2,81.9 333.4,81.0 332.1,78.4 M314.2,130.0 315.0,123.0 316.8,118.2 321.6,116.4 327.7,115.3 331.2,116.0 333.9,119.5 336.9,124.7 339.1,130.0 M329.9,109.9 334.7,107.7 339.1,104.6 344.4,102.9 350.5,102.9 355.7,104.6 359.2,107.2 361.9,111.6 M399.1,63.9 400.0,69.6 402.6,74.0 407.0,78.8 410.5,83.2 412.7,88.0 414.0,92.4 416.6,96.7 418.4,101.1 M365.0,76.2 367.6,80.6 372.9,82.3 377.2,84.1 384.2,85.8 389.5,87.6 394.7,88.9 398.2,92.4 401.7,95.9 406.1,100.2 M421.9,120.4 425.4,120.8 429.7,124.7 434.1,128.2 435.9,130.0 M421.9,120.4 422.7,123.0 428.0,127.4 431.5,130.0 M523.4,63.9 525.2,66.6 530.0,68.7 533.5,70.9 538.7,71.4 542.7,73.1 543.6,76.2 540.5,81.0 536.1,85.4 531.7,90.2 526.5,95.9 520.4,102.0 515.1,107.2 509.9,112.1 504.6,117.7 502.0,123.0 M625.0,102.9 620.1,105.5 614.9,107.7 608.7,110.7 602.6,114.7 595.6,118.6 588.6,121.7 582.5,123.0 577.2,125.6 572.9,130.0 M146.1,130.0 143.5,132.2 140.4,134.4 141.7,137.4 144.4,141.4 150.5,142.7 161.9,141.8 169.7,144.0 176.7,145.7 180.2,148.4 182.0,151.4 188.1,153.2 196.0,154.9 204.7,154.1 213.5,153.2 222.2,153.2 227.5,153.6 230.1,151.0 M141.7,163.7 145.2,162.4 152.2,162.8 155.7,164.6 156.6,166.3 161.9,167.2 167.1,168.5 170.2,169.8 166.2,170.7 158.4,170.7 150.5,170.2 146.1,167.2Z M189.0,169.8 193.4,167.6 197.7,164.6 203.0,163.2 208.2,162.8 212.6,160.2 216.1,158.0 221.4,157.6 224.4,158.9 224.9,162.4 227.5,164.1 235.0,163.2 M189.0,169.8 196.0,170.7 204.7,169.4 213.5,167.6 221.4,165.4 222.7,168.5 224.9,172.9 227.5,177.2 231.9,179.9 235.0,180.3 M182.9,200.0 183.7,197.4 189.0,195.2 196.0,193.0 203.0,191.7 210.0,190.4 217.0,189.5 221.4,189.9 222.2,192.6 M285.7,130.0 286.2,133.5 283.6,137.9 280.9,141.4 280.5,144.9 272.6,146.2 275.7,151.9 281.4,148.8 288.4,147.1 298.9,148.4 305.0,145.3 309.4,143.6 312.9,142.7 314.2,146.2 317.2,148.8 323.4,147.9 325.1,145.7 M247.2,146.6 255.1,144.9 263.0,140.9 264.7,143.1 263.9,146.2 259.5,147.9 253.4,147.9 247.2,146.6 M235.0,168.9 242.0,169.4 250.7,168.5 257.7,167.6 263.9,165.0 271.7,163.7 278.7,164.1 284.9,166.3 289.2,168.5 M298.0,175.5 302.4,172.9 308.5,169.8 315.5,166.7 319.9,164.1 323.4,160.2 331.2,158.9 338.2,158.0 346.1,159.7 350.5,164.1 355.7,168.5 360.1,171.1 365.0,172.0 M298.0,175.5 299.7,178.6 305.0,179.4 310.2,180.7 317.2,179.0 326.0,179.4 334.7,181.6 343.5,180.7 352.2,179.9 361.0,181.6 365.0,179.9 M257.7,173.7 270.0,174.2 277.0,174.2 284.0,178.6 290.1,182.1 294.5,185.6 298.0,191.2 301.5,196.5 304.1,200.0 M250.7,200.0 255.1,197.4 260.4,195.2 266.5,194.3 M365.0,152.3 372.9,150.6 382.5,148.8 391.2,153.2 392.1,159.7 392.1,164.1 395.6,166.3 400.0,168.5 408.7,166.7 417.5,163.7 421.9,160.2 426.2,155.4 432.4,152.7 440.2,152.0 449.0,151.9 459.5,151.3 468.2,151.4 M470.9,158.9 472.2,163.7 470.0,166.7 467.4,169.4 467.4,172.0 464.7,174.2 460.4,172.9 455.1,175.5 459.5,176.4 470.0,175.5 478.7,172.9 487.5,169.4 495.0,165.4 M365.0,172.9 368.5,173.7 373.7,174.6 380.3,175.1 373.7,175.9 365.0,177.7 M501.1,131.7 500.2,136.1 503.7,140.5 502.4,146.6 503.7,152.7 502.0,158.0 498.5,161.5 M570.2,132.6 567.6,137.0 564.1,142.2 561.5,145.7 556.7,151.9 558.0,154.5 M110.7,207.0 119.0,206.6 127.7,206.6 136.5,205.7 146.1,206.1 154.0,207.0 166.2,208.7 173.2,207.9 M110.7,229.3 119.0,228.4 127.7,227.6 136.5,226.7 144.4,227.1 152.2,228.0 156.6,229.3 M172.4,233.7 179.4,233.2 186.4,233.7 192.5,235.4 202.1,235.9 208.2,232.4 215.2,230.6 222.2,233.2 229.2,237.6 235.0,240.2 M220.5,200.0 223.1,203.5 225.7,208.7 235.0,207.4 M1005.8,63.6 993.3,77.7 979.7,91.3 966.1,107.1 954.8,120.7 943.5,132.1 929.9,150.2 918.5,163.8 909.5,181.9 902.7,200.1 893.6,218.2 884.5,231.8 M1080.6,68.6 1079.5,86.7 1072.7,100.3 1059.1,102.6 1052.3,106.0 1053.4,111.7 1063.6,116.2 1059.1,129.8 1056.8,145.7 1059.1,159.3 1065.9,172.9 1065.9,186.5 1068.1,200.1 1074.9,209.1 1079.5,222.7 1086.3,235.0 M700.1,472.4 712.5,474.1 723.0,477.6 731.7,479.4 738.7,480.2 744.0,485.5 751.0,486.9 761.5,485.8 772.0,483.7 782.5,486.4 791.2,489.0 796.5,486.4 805.2,479.4 815.7,475.0 824.5,471.5 835.0,472.4 843.7,477.6 850.0,475.9 M850.0,475.0 860.5,475.0 871.0,476.7 885.0,476.7 899.0,476.7 909.5,474.1 915.6,472.9 921.7,475.0 927.0,480.2 934.0,483.7 941.0,482.0 948.0,485.5 958.5,487.2 965.5,492.5 972.5,496.0 979.5,501.2 990.0,503.0 1000.5,501.2 1011.0,498.6 1021.5,500.4 1032.0,498.6 1042.5,496.0 1053.0,494.2 1063.5,492.5 1075.7,487.2 1084.5,484.6 1090.1,482.0 1093.2,480.2 M536.1,200.0 535.2,210.0 533.5,218.7 528.2,227.5 525.6,238.0 523.0,248.5 522.1,259.0 519.5,269.5 518.6,280.0 519.5,287.0 M540.5,200.0 538.7,210.0 534.3,224.0 530.0,234.5 529.1,245.0 527.3,255.5 524.7,266.0 525.6,276.5 528.2,285.2 531.7,294.0 538.7,301.0 547.5,308.0 552.7,316.7 554.5,327.2 554.5,339.5 547.5,343.0 540.5,348.2 M630.6,200.0 628.0,210.0 622.7,220.5 621.0,232.7 623.6,246.7 628.0,257.2 636.7,266.0 643.7,274.7 650.0,280.0 M655.7,200.0 664.5,207.0 673.2,215.7 682.0,226.2 690.7,235.0 701.2,243.7 710.0,249.0 720.5,254.2 731.0,259.5 741.5,264.7 752.0,268.2 762.5,273.5 773.0,278.7 780.0,282.2 781.7,287.5 783.5,292.7 M640.0,275.2 647.0,280.5 655.7,285.7 664.5,292.7 669.7,299.7 672.4,308.5 662.7,311.1 664.5,317.2 671.5,322.5 676.7,331.2 678.5,340.0 M885.0,229.7 872.7,240.2 865.7,249.0 862.2,261.2 865.7,270.0 871.0,278.7 864.0,291.0 855.2,298.0 853.5,305.0 857.0,312.0 865.7,313.7 M780.0,284.0 788.7,292.7 797.5,299.7 808.0,303.2 816.7,308.5 827.2,311.1 815.0,313.7 809.7,319.0 813.2,326.0 808.0,331.2 797.5,327.7 788.7,325.1 776.5,322.5 769.5,327.7 766.0,336.5 M830.7,313.7 834.2,311.1 848.2,310.2 853.5,313.7 850.0,317.2 837.7,319.9 832.5,318.1Z M883.2,235.0 876.2,243.7 M620.0,102.0 630.5,95.0 639.2,88.9 646.2,79.2 651.5,71.4 655.0,63.8 M652.4,63.8 652.4,69.6 660.2,67.0 670.7,66.1 677.7,67.9 672.5,72.2 663.7,74.0 M630.5,198.2 634.0,191.2 639.2,187.4 649.7,186.3 660.2,190.3 667.2,197.3" fill="none" stroke="#400000" stroke-width="1.80" stroke-linejoin="round" stroke-linecap="round"/>
<path d="M698.1,350.0 703.0,356.5 711.1,363.0 720.9,369.5 730.6,376.0 737.1,381.7 739.6,386.6 732.2,386.6 724.1,384.9 709.5,384.9 700.1,380.9 M770.4,350.0 774.5,354.9 784.2,358.1 800.5,359.7 816.7,361.4 833.0,361.4 849.2,358.9 862.2,357.3 870.4,355.7 868.7,350.0 M766.0,339.9 771.7,344.9 770.3,350.0 M851.6,339.9 863.6,342.3 870.5,344.1 868.8,350.0 M696.0,339.9 698.1,350.0 M1123.5,356.5 1128.0,352.0 1133.0,349.0 1140.0,347.5 1148.0,346.2 1154.0,346.0 1156.0,349.0 1162.0,352.0 1168.0,354.5 1175.0,357.5 1180.0,361.0 1184.0,364.0 1188.0,367.0 1188.5,371.0 1191.0,374.5 1195.0,378.0 1190.0,381.0 1183.0,383.5 1177.0,386.5 1170.0,388.0 1166.0,389.0 1160.0,388.0 1154.0,386.5 1149.0,384.0 1145.5,380.0 1144.5,377.0 1146.0,373.5 1142.0,371.5 1135.0,368.0 1130.0,364.0 1125.0,360.0Z M1210.0,394.5 1202.0,394.5 1197.5,393.0 1196.0,396.0 1194.0,400.0 M1194.0,400.0 1193.0,404.0 1192.0,407.0 1189.0,409.5 1186.5,412.0 1190.0,417.0 1193.0,421.0 1200.0,421.5 1207.0,421.0 1209.0,422.5 1205.0,425.0 1210.0,426.2 M1210.0,426.2 1204.0,426.5 1198.0,430.0 1192.0,434.0 1186.0,438.0 1180.0,442.0 1174.0,446.0 1168.0,449.0 1160.0,452.0 1152.0,455.5 1144.0,459.0 1137.0,462.5 1134.0,466.0 1130.0,468.5 1123.0,470.5 1116.0,473.5 1110.0,476.5 1103.0,480.0 M1085.0,235.0 1090.0,240.0 1096.0,243.0 1102.0,248.0 1105.0,253.0 1105.5,258.0 1106.5,263.0 1113.0,266.0 1121.0,267.5 1128.0,269.5 1135.0,272.5 1130.0,265.0 1128.0,261.5 1130.5,258.0 1128.5,253.0 1125.0,249.0 1122.0,244.0 1122.0,240.0 1121.8,235.0 M1160.0,235.0 1158.0,240.0 1164.0,246.0 1167.0,251.0 1167.5,257.0 1171.0,261.5 1166.0,266.5 1169.0,269.0 1172.5,272.0 1172.5,277.5 1166.0,279.5 1160.0,283.5 1162.0,288.0 1167.0,292.0 1173.0,296.0 1180.0,300.0 1186.0,303.0 1190.5,305.5 1189.0,311.0 1195.0,315.0 1202.0,318.0 1210.0,319.0 M1209.5,253.0 1209.0,257.0 1209.5,262.0 M1064.5,316.5 1067.0,312.0 1072.0,308.0 1080.0,305.0 1088.0,304.0 1096.0,303.5 1102.0,302.5 1108.0,301.5 1109.5,299.0 1107.5,295.5 1111.0,294.0 1116.0,295.0 1121.0,297.5 1127.0,298.5 1130.0,301.0 1129.5,305.0 1127.0,307.5 1120.0,308.0 1110.0,307.5 1102.0,307.5 1097.0,309.0 1095.5,314.0 1094.5,320.0 1095.0,324.0 1097.0,328.0 1093.0,329.5 1086.0,329.5 1080.0,329.0 1074.0,325.0 1068.0,322.0 1065.0,318.5Z M1073.0,300.0 1075.0,299.0 1084.0,299.5 1085.0,301.5 1083.0,304.5 1074.0,303.5Z M1124.0,360.0 1128.0,355.0 1133.0,350.0 1140.0,347.0 1147.0,346.0 1153.5,345.5 1156.0,350.0 1158.0,355.0 1166.0,356.0 1171.0,357.5 1178.0,360.0 M375.4,389.9 377.1,388.1 382.4,387.7 391.1,388.1 398.1,383.7 406.9,381.1 417.4,378.9 416.9,383.3 414.7,385.5 407.7,387.9 404.2,387.2 400.3,384.6 399.9,389.9 396.4,392.5 392.0,390.3 385.0,390.7 377.1,391.4Z M390.2,398.2 393.7,396.9 397.2,396.7 397.7,400.4 402.5,402.6 400.7,407.8 395.5,408.2 391.1,406.5 388.9,403.9Z M365.0,424.4 372.7,426.6 379.7,430.1 387.6,431.9 395.5,433.2 400.7,435.8 404.2,440.6 409.5,445.0 413.9,448.1 421.7,447.6 428.7,446.3 435.7,446.7 440.0,446.7 M206.5,337.0 215.2,345.7 227.5,351.9 241.5,356.2 252.0,362.4 262.5,366.7 273.0,367.6 283.5,365.9 290.5,362.4 298.3,358.9 302.7,362.4 311.5,367.6 320.2,373.7 329.0,379.0 330.7,384.2 343.0,389.5 349.1,394.7 343.0,403.5 336.0,412.2 336.0,416.6 344.7,421.0 355.2,423.6 365.0,424.5 M111.1,358.9 119.0,360.6 129.5,360.6 131.2,365.0 136.5,369.4 136.5,375.5 133.0,382.5 126.0,390.4 120.7,396.5 115.5,400.0 111.1,400.9 M111.1,403.5 117.2,407.0 122.5,405.2 121.6,400.9 M227.5,403.5 231.0,398.2 238.0,397.4 244.1,400.0 245.0,405.2 238.0,407.9 230.1,407.0Z M365.0,449.0 357.0,445.5 353.5,443.7 M526.6,350.0 522.2,357.0 515.2,364.0 508.2,367.5 506.5,374.5 502.1,381.5 502.1,386.7 496.0,392.0 494.2,394.6 508.2,399.0 522.2,398.1 543.2,396.4 560.7,392.0 569.5,385.0 580.0,377.1 588.7,371.9 597.5,368.4 611.5,368.4 625.5,371.9 639.5,373.6 657.0,374.1 674.5,373.6 688.5,378.0 700.0,382.4 M440.0,447.1 447.0,453.2 455.7,459.4 468.0,462.0 482.0,464.6 496.0,466.4 498.6,462.0 500.4,459.4 506.5,458.5 517.0,460.2 531.0,464.6 545.0,470.7 559.0,476.0 573.0,480.3 587.0,483.8 601.0,485.6 615.0,484.7 629.0,483.8 643.0,484.7 650.0,483.0 657.0,477.7 661.3,471.6 662.2,466.4 667.5,466.4 676.2,469.0 688.5,468.1 700.0,466.4 M697.2,350.0 700.0,352.6 M119.6,680.7 124.5,677.0 133.4,676.2 134.2,686.4 124.5,684.8Z M119.6,696.3 123.2,698.0 M177.3,635.2 178.9,630.4 183.0,628.4 189.5,627.6 193.6,631.2 188.7,634.4 183.8,636.9 187.9,639.3 188.7,643.4 184.6,646.6 182.2,650.7 177.3,649.5 176.5,645.0 178.9,641.7 177.3,638.5Z M110.2,78.8 114.6,77.5 119.0,75.3 123.4,70.9 127.7,70.5 133.0,70.5 138.2,71.8 143.5,73.1 144.4,76.2 147.9,78.8 150.5,81.9 152.7,86.2 154.0,90.2 154.4,93.7 152.7,96.7 150.9,99.4 151.4,102.0 154.9,103.7 157.1,105.5 154.9,109.0 152.7,111.6 149.6,114.7 146.1,116.9 141.7,118.2 137.4,119.1 134.7,121.2 132.1,125.2 129.9,129.1 M191.2,80.6 192.5,75.7 197.7,74.0 203.0,72.9 210.0,73.6 217.9,73.6 221.8,75.7 220.5,81.9 218.7,87.6 213.5,88.4 207.4,89.3 202.1,88.0 196.9,84.9 192.5,82.3Z M168.0,112.5 173.2,112.9 177.6,114.7 182.0,116.9 177.6,117.6 172.4,117.3 170.2,115.1Z M272.2,200.4 278.7,201.7 287.5,202.6 294.5,203.1 297.6,200.4 M235.0,220.1 239.4,216.6 243.7,213.1 248.1,211.8 247.7,215.7 249.0,221.0 243.7,222.7 239.4,224.1 235.0,225.4 M235.0,230.6 237.6,233.2 238.5,236.7 242.0,239.8 245.5,243.7 249.0,247.7 252.5,250.7 255.1,254.2 259.5,257.7 266.5,259.5 271.7,261.2 277.0,263.9 281.4,267.4 283.6,270.0 M365.0,262.6 357.5,262.6 348.7,263.0 340.0,264.3 333.0,266.0 328.6,267.8 322.5,269.1 313.7,269.5 305.0,269.5 M217.0,288.4 212.6,289.7 208.2,293.6 205.6,298.0 202.1,302.4 199.0,306.7 197.3,312.0 197.7,317.2 198.6,322.5 199.9,326.9 203.0,331.2 206.5,336.5 208.7,340.0 M235.0,282.7 240.2,285.3 246.4,288.4 251.6,291.9 255.1,295.8 256.9,300.2 259.9,303.7 266.5,304.1 273.5,304.3 281.4,303.7 287.1,302.8 291.0,306.7 295.4,310.7 298.4,314.6 305.9,315.1 309.4,312.0 313.7,309.4 319.9,307.2 326.0,305.0 330.4,302.8 332.5,299.7 332.1,296.2 328.6,294.5 323.4,293.6 317.2,293.6 311.1,295.4 306.7,296.7 301.5,294.5 298.0,292.7 298.0,289.2 300.6,285.7 305.0,283.1 311.1,280.1 317.2,277.0 322.5,274.8 331.2,274.4 338.2,277.0 345.2,279.6 351.4,280.5 357.5,277.9 365.0,275.2 M284.0,270.0 296.2,271.3 310.2,270.7 321.6,270.0 M365.0,262.2 371.7,261.8 378.7,263.6 383.1,265.3 385.3,267.5 382.2,269.7 377.0,272.3 370.0,274.5 365.0,276.2 M365.0,84.1 363.6,81.4 360.1,78.4 355.7,75.7 349.6,73.6 343.5,72.7 337.4,72.7 332.1,73.6 329.9,75.7 329.5,79.7 330.8,83.6 333.9,88.0 337.4,91.5 339.5,93.7 336.5,96.7 333.0,100.7 329.9,104.2 328.6,106.4 329.0,110.3 331.2,113.4 333.0,116.9 334.3,121.2 334.7,125.6 333.9,130.0 M336.5,98.1 339.5,95.4 342.6,94.6 347.9,96.7 353.1,98.9 358.8,100.7 358.4,104.6 360.1,109.0 361.0,111.6 357.5,111.2 353.1,109.4 348.7,107.2 346.5,103.7 345.7,101.1 341.7,99.8Z M295.4,130.0 297.6,125.2 303.2,124.3 310.2,123.9 317.2,124.7 322.5,126.9 326.9,130.0 M395.2,63.9 395.2,69.6 400.0,74.4 404.4,78.4 407.9,81.4 407.4,84.1 402.6,84.9 399.1,83.2 394.7,79.2 391.2,79.2 388.2,82.3 383.8,85.4 379.0,86.7 374.6,88.4 370.2,86.2 365.0,83.6 M401.7,90.2 407.0,90.6 407.9,92.4 412.2,95.4 415.7,98.5 419.2,102.9 424.5,107.2 429.7,111.6 433.2,115.1 437.6,116.9 442.0,119.5 448.1,121.2 453.4,123.0 458.6,126.0 463.4,129.1 M401.7,90.2 401.7,92.8 405.2,96.7 408.7,101.1 411.4,106.4 414.0,110.3 417.5,113.8 419.7,116.9 421.0,122.1 425.4,126.5 428.9,130.0 M541.4,63.9 538.7,69.6 535.7,74.9 535.7,80.1 533.9,86.2 530.0,91.5 525.6,97.6 520.4,102.9 515.1,107.7 509.9,112.5 504.6,116.9 501.1,122.1 500.7,126.5 501.6,130.0 M625.0,95.9 621.0,99.4 615.7,102.9 610.5,106.4 604.4,110.3 599.1,113.4 593.9,116.4 590.4,119.9 586.0,121.2 580.7,120.8 577.2,119.5 575.5,117.3 577.2,114.7 580.3,112.5 581.2,110.7 579.0,110.0 576.4,112.5 573.7,116.0 572.4,117.7 574.6,120.4 576.4,122.6 573.7,126.5 571.1,130.0 M129.9,130.0 132.1,133.5 136.5,137.4 140.9,140.9 143.1,143.6 150.5,144.4 159.2,145.3 168.0,146.2 176.7,147.5 185.5,148.8 194.2,149.7 203.0,150.6 211.7,151.0 220.5,151.0 227.5,150.8 235.0,151.0 M235.0,166.3 231.0,168.5 230.1,170.2 231.9,174.6 235.0,175.9 M188.1,200.0 193.4,198.7 201.2,196.5 210.0,194.3 217.9,192.6 219.6,195.2 221.8,198.7 225.7,197.4 231.0,195.2 235.0,193.4 M111.1,184.9 113.7,183.8 M115.1,183.2 117.7,182.3 M119.4,181.9 121.6,181.2 M143.5,187.3 145.7,186.0 146.1,188.6 144.4,189.9Z M111.6,195.2 114.6,194.7 116.8,195.6 M166.7,196.5 168.9,196.9 169.3,198.7 M295.4,130.0 292.3,133.5 289.7,137.4 286.6,140.5 286.6,143.1 291.0,141.8 300.6,141.8 304.1,144.0 307.2,146.2 303.2,149.7 300.2,153.6 298.0,158.0 296.2,161.5 295.4,165.0 294.9,168.9 289.2,169.4 284.9,171.1 282.7,169.8 276.1,169.8 270.0,169.8 263.9,171.6 256.9,173.7 249.9,175.9 242.0,176.4 235.0,176.2 M334.7,130.0 338.2,133.5 341.3,137.0 343.5,141.4 342.6,146.6 340.0,151.9 336.5,156.2 334.3,158.0 329.5,155.8 324.7,152.3 328.6,146.2 326.0,143.1 322.9,139.6 326.9,136.6 329.9,133.9 327.7,131.7 326.4,130.0 M365.0,179.4 357.5,179.0 350.5,177.7 343.5,176.4 336.5,175.1 327.7,173.7 320.7,174.6 313.7,175.9 307.6,176.4 302.4,177.7 298.9,180.3 296.2,182.5 294.9,186.0 296.2,189.5 298.9,192.1 298.9,196.5 298.0,200.0 M235.0,151.0 239.4,151.0 241.1,153.6 242.0,158.0 241.1,162.4 238.5,165.0 235.0,166.7 M235.0,194.3 240.2,191.2 244.6,188.2 249.0,185.6 254.2,186.4 260.4,188.6 265.6,191.2 269.6,193.9 270.9,196.9 273.5,200.0 M365.0,158.0 361.9,159.7 359.2,163.2 361.0,165.9 365.0,167.2 M428.4,130.0 433.2,132.2 438.5,133.9 445.5,134.8 452.5,135.1 459.5,134.4 463.0,133.9 463.4,130.0 M365.0,180.3 372.0,179.9 379.0,178.6 386.9,176.8 393.4,175.5 395.6,171.1 397.4,166.7 399.6,162.4 402.6,158.9 407.0,156.2 411.4,153.2 414.9,151.0 421.0,149.7 429.7,149.7 439.4,150.3 449.0,150.6 456.0,149.7 460.4,148.8 464.7,150.6 469.1,152.3 470.4,155.4 470.9,158.0 468.2,160.6 463.0,163.2 458.6,165.4 452.5,166.7 448.1,167.6 445.5,170.2 441.1,172.9 438.9,175.5 438.5,180.3 443.7,180.3 449.9,179.9 455.1,178.6 461.2,175.9 467.4,173.3 474.4,171.1 481.4,168.9 488.4,166.7 495.0,164.6 M365.0,156.2 370.2,154.5 377.7,153.6 380.3,158.0 377.2,160.6 373.7,164.1 370.2,167.2 365.0,166.7 M501.6,130.0 503.7,133.5 509.0,137.9 512.1,143.1 513.8,147.9 510.7,152.7 506.4,157.1 502.0,160.6 497.6,163.2 495.0,165.0 M572.0,130.0 569.4,132.6 566.3,135.7 565.9,140.1 561.5,144.9 560.2,149.2 558.9,153.6 556.2,158.9 553.2,164.1 552.3,169.4 549.2,175.5 545.7,180.7 544.4,186.0 542.2,192.1 539.6,196.5 537.0,200.0 M110.7,210.1 116.4,213.1 122.5,215.3 126.9,217.1 129.1,216.6 131.2,213.6 135.6,210.5 141.7,208.7 150.5,208.3 159.2,207.9 168.0,207.4 175.0,206.1 181.1,203.9 188.1,201.7 195.1,200.0 M110.7,225.8 118.1,224.9 126.9,225.4 135.6,225.8 144.4,226.2 154.0,227.1 161.0,228.0 165.8,228.4 166.7,231.5 168.9,234.1 173.2,233.7 179.4,233.1 185.0,232.4 185.5,226.2 185.9,221.4 192.5,221.4 201.2,221.7 210.0,222.6 218.7,223.4 224.0,224.9 229.2,228.0 235.0,231.1 M235.0,219.7 233.2,221.9 233.2,225.4 235.0,226.2 M178.5,248.6 182.0,249.0 189.4,252.1 187.2,256.9 182.9,260.4 178.5,262.6 177.6,260.4 181.1,256.9 182.9,254.2 180.2,251.6Z M1003.5,63.6 997.9,79.9 986.5,89.0 975.2,100.3 963.9,113.9 953.7,125.3 952.5,129.8 943.5,134.3 934.4,145.7 925.3,154.7 918.5,166.1 909.5,177.4 904.9,191.0 900.4,202.3 895.9,213.7 886.8,222.7 880.0,227.3 M1061.3,63.6 1052.3,68.6 1044.3,77.7 1039.8,86.7 1047.7,89.0 1059.1,86.7 1061.3,79.9 1068.1,70.9 1081.7,68.6 1086.3,63.6 M1098.7,63.6 1093.1,73.1 1084.0,82.2 1077.2,91.3 1073.8,100.3 1070.4,108.3 1079.5,115.1 1072.7,123.0 1065.9,132.1 1060.2,143.4 1059.1,154.7 1061.3,166.1 1065.9,177.4 1068.1,188.7 1071.5,200.1 1079.5,211.4 1081.7,220.5 1090.8,235.0 M1122.5,191.0 1120.3,200.1 1127.1,202.3 1120.3,205.7 1119.1,218.2 1121.4,235.0 M1122.5,191.0 1129.3,197.8 1136.1,203.5 1149.7,202.3 1156.5,206.9 1161.1,215.9 1169.0,222.7 1161.1,235.0 M700.1,466.2 709.0,467.1 716.0,470.6 723.0,476.7 730.0,480.2 737.0,483.7 744.0,489.0 749.2,491.1 756.2,490.7 765.0,487.6 775.5,486.9 786.0,488.1 793.0,488.6 798.2,484.6 807.0,479.4 817.5,475.0 828.0,473.2 838.5,472.4 843.7,475.0 850.0,477.1 M850.0,475.9 855.2,478.1 865.7,476.7 876.2,476.7 878.9,480.6 890.2,482.0 902.5,482.0 911.2,478.5 919.1,475.9 925.2,476.7 927.0,482.0 934.9,487.6 944.5,486.4 955.0,485.8 962.0,486.4 972.5,489.9 980.3,492.1 990.0,490.7 1000.5,489.9 1009.2,490.4 1018.0,492.5 1026.7,493.4 1035.5,494.2 1046.0,495.1 1053.0,491.6 1063.5,489.9 1077.5,489.9 1086.2,485.5 1090.1,483.7 1095.0,481.1 1098.5,479.9 M532.6,200.0 531.7,210.0 528.2,218.7 523.0,229.2 518.6,239.7 516.9,250.2 516.0,260.7 516.0,271.2 517.7,281.7 519.5,290.5 524.7,296.6 533.5,301.0 544.0,302.7 547.5,309.7 548.3,318.5 547.5,325.5 542.2,332.5 535.2,341.2 526.5,349.1 M632.3,200.0 629.7,210.0 624.5,217.0 621.0,225.7 620.1,236.2 622.7,245.0 628.0,253.7 635.0,260.7 643.7,267.7 650.0,271.2 M669.7,200.0 678.5,207.0 685.5,215.7 690.7,224.5 697.7,233.2 704.7,241.1 713.5,245.5 722.2,249.9 731.0,252.5 735.4,256.0 734.5,261.2 732.7,266.5 738.0,269.1 748.5,271.7 759.0,274.4 769.5,277.9 778.2,281.4 785.2,284.0 786.1,289.2 783.5,296.2 785.2,305.0 790.5,310.2 797.5,315.5 801.8,317.2 795.7,325.1 783.5,324.2 773.0,324.2 767.7,326.0 765.1,333.0 766.0,340.0 M640.0,264.7 648.7,271.7 657.5,278.7 668.0,285.7 677.6,291.9 682.0,301.5 685.5,308.5 683.7,315.5 685.5,320.7 681.1,323.4 687.2,331.2 696.0,340.0 M885.0,224.5 876.2,235.0 876.2,242.0 871.0,247.2 865.7,256.0 864.8,266.5 865.7,275.2 872.7,284.0 878.0,291.0 878.8,298.0 874.5,303.2 869.2,306.7 867.5,312.0 872.7,317.2 879.7,322.5 885.0,329.5 881.5,334.7 871.0,335.6 860.5,337.3 851.7,340.0 M620.0,101.1 626.1,94.1 635.7,93.2 646.2,88.9 655.9,87.1 657.6,81.9 665.5,77.5 672.5,74.9 679.5,70.5 686.5,67.0 688.2,63.8 M655.9,63.8 662.0,68.7 667.2,73.1 666.4,63.8 M630.5,200.0 635.7,193.8 641.0,189.5 649.7,187.7 656.7,189.5 663.7,193.8 670.7,199.1" fill="none" stroke="#000000" stroke-width="2.15" stroke-linejoin="round" stroke-linecap="round"/>
<path d="M979.9,249.4 983.2,251.3 M1008.4,308.7 1010.0,310.3 M1005.1,317.6 1010.0,317.3 M1012.9,314.0 1013.9,314.9 M997.0,289.2 1000.2,290.3 M210.3,664.3 211.4,663.2 212.6,664.3 211.4,665.5Z M170.6,324.2 175.0,322.9 180.2,322.5 184.2,322.5 183.3,326.0 182.4,331.2 182.4,334.7 177.6,335.6 171.5,336.0 166.2,336.0 169.7,334.3 173.2,332.1 174.1,328.6 174.1,326.0 172.4,324.7Z M110.7,335.6 116.4,332.6 122.5,329.1 127.7,329.5 132.1,328.6 130.4,327.3 122.5,326.9 122.5,325.6 131.2,325.6 137.4,325.6 144.4,324.2 151.4,323.5 157.5,324.2 166.2,324.2 165.4,325.6 159.2,326.0 157.5,327.3 152.2,327.6 147.9,327.7 148.7,330.4 152.2,333.0 154.0,334.7 150.5,336.5 153.1,335.2 155.7,336.5 157.5,340.0 M177.6,276.1 180.2,275.7 180.7,277.9 178.9,280.1 177.2,278.7Z M207.4,277.0 209.5,277.0 211.3,279.6 210.0,281.4 207.8,279.6Z M169.3,297.1 171.5,296.7 171.9,299.3 170.2,300.6Z M120.3,319.0 122.5,317.7 125.6,318.1 128.2,316.4 130.4,316.4 130.8,319.4 128.6,321.2 125.6,320.7 123.8,319.9 120.7,320.3Z M186.4,315.1 191.6,313.3 M169.7,221.9 171.5,221.4 172.4,225.4 170.6,227.1 169.3,224.9Z M174.1,218.8 175.9,220.1 179.4,222.7 175.0,223.2Z M175.0,235.9 177.6,235.9 178.0,239.4 176.3,242.0 175.4,238.5Z M182.0,264.7 184.2,263.0 184.6,267.4 182.9,269.1Z M149.6,201.9 150.5,202.4 M167.6,206.4 168.3,206.8 M160.2,213.6 160.9,214.3 M177.8,227.8 178.3,228.2 M1009.7,84.0 1011.5,85.4 M1000.6,158.8 1001.9,160.6 M476.6,544.7 478.0,545.8 M837.7,207.0 841.2,206.1 843.8,208.7 841.2,210.8 838.6,209.6Z M842.1,211.4 844.7,210.8 845.6,212.6 843.0,213.3Z M854.3,215.7 857.0,214.9 861.3,216.6 857.0,218.4Z M881.1,212.2 882.3,214.9 881.5,216.6 M852.6,245.8 856.1,245.8 857.0,248.6 853.8,249.3Z M865.7,240.2 869.2,242.9 871.0,246.4 867.5,247.2 865.7,243.7Z" fill="none" stroke="#000000" stroke-width="1.50" stroke-linejoin="round" stroke-linecap="round"/>

<path d="M567.6,435 L545.0,554.4" fill="none" stroke="#000" stroke-width="2.5" stroke-dasharray="2.5 4.12"/>
<path d="M204.7,116.8 L201.2,134.0" fill="none" stroke="#000" stroke-width="2.5" stroke-dasharray="2.5 4.12"/>
<polygon points="225.3,275.6 233.7,280.4 233.7,290.1 225.3,294.9 216.9,290.1 216.9,280.4" fill="#ba55d3" stroke="#000" stroke-width="1.3" stroke-linejoin="miter"/>

</g>
<rect x="820.0" y="638.0" width="363.2" height="56.0" fill="#fff"/>
<g font-size="11.3">
<text x="825.3" y="652.0" textLength="345.4" lengthAdjust="spacingAndGlyphs">Red lines show the 48mm contour of integrated column water</text>
<text x="825.3" y="663.0" textLength="286.2" lengthAdjust="spacingAndGlyphs">vapour. The darker the line, the newer the forecast.</text>
<text x="825.3" y="675.0" textLength="351.6" lengthAdjust="spacingAndGlyphs">Latest ECMWF IFS forecast initialization: 2024-09-22 00:00 UTC</text>
<text x="825.3" y="687.0" textLength="320.8" lengthAdjust="spacingAndGlyphs">Satellite tracks forecast issued on: 2024-09-22 00:00 UTC</text>
</g>

<rect x="109.3" y="62.3" width="1102.0" height="643.0" fill="none" stroke="#000" stroke-width="2.6"/>
<line x1="201.1" y1="705.3" x2="201.1" y2="719.1" stroke="#000" stroke-width="2.6"/>
<text x="201.1" y="740.0" font-size="23.6" text-anchor="middle" textLength="44.4" lengthAdjust="spacingAndGlyphs">−60</text>
<line x1="384.8" y1="705.3" x2="384.8" y2="719.1" stroke="#000" stroke-width="2.6"/>
<text x="384.8" y="740.0" font-size="23.6" text-anchor="middle" textLength="44.4" lengthAdjust="spacingAndGlyphs">−50</text>
<line x1="568.5" y1="705.3" x2="568.5" y2="719.1" stroke="#000" stroke-width="2.6"/>
<text x="568.5" y="740.0" font-size="23.6" text-anchor="middle" textLength="44.4" lengthAdjust="spacingAndGlyphs">−40</text>
<line x1="752.1" y1="705.3" x2="752.1" y2="719.1" stroke="#000" stroke-width="2.6"/>
<text x="752.1" y="740.0" font-size="23.6" text-anchor="middle" textLength="44.4" lengthAdjust="spacingAndGlyphs">−30</text>
<line x1="935.8" y1="705.3" x2="935.8" y2="719.1" stroke="#000" stroke-width="2.6"/>
<text x="935.8" y="740.0" font-size="23.6" text-anchor="middle" textLength="44.4" lengthAdjust="spacingAndGlyphs">−20</text>
<line x1="1119.5" y1="705.3" x2="1119.5" y2="719.1" stroke="#000" stroke-width="2.6"/>
<text x="1119.5" y="740.0" font-size="23.6" text-anchor="middle" textLength="44.4" lengthAdjust="spacingAndGlyphs">−10</text>
<line x1="95.5" y1="154.2" x2="109.3" y2="154.2" stroke="#000" stroke-width="2.6"/>
<text x="90.6" y="162.6" font-size="23.6" text-anchor="end" textLength="25.9" lengthAdjust="spacingAndGlyphs">20</text>
<line x1="95.5" y1="337.9" x2="109.3" y2="337.9" stroke="#000" stroke-width="2.6"/>
<text x="90.6" y="346.3" font-size="23.6" text-anchor="end" textLength="25.2" lengthAdjust="spacingAndGlyphs">10</text>
<line x1="95.5" y1="521.6" x2="109.3" y2="521.6" stroke="#000" stroke-width="2.6"/>
<text x="90.6" y="530.0" font-size="23.6" text-anchor="end" textLength="11.5" lengthAdjust="spacingAndGlyphs">0</text>
<line x1="95.5" y1="705.3" x2="109.3" y2="705.3" stroke="#000" stroke-width="2.6"/>
<text x="90.6" y="713.7" font-size="23.6" text-anchor="end" textLength="44.4" lengthAdjust="spacingAndGlyphs">−10</text>
<text x="660.0" y="53.6" font-size="25.6" text-anchor="middle" textLength="414.6" lengthAdjust="spacingAndGlyphs">Valid time: 2024-09-22 15:00UTC</text>
<text x="660.0" y="770.4" font-size="25.6" text-anchor="middle" textLength="175" lengthAdjust="spacingAndGlyphs">Longitude / °E</text>
<text transform="translate(32.1,384.6) rotate(-90)" x="0" y="0" font-size="25.6" text-anchor="middle" textLength="153.7" lengthAdjust="spacingAndGlyphs">Latitude / °N</text>
<rect x="1279.4" y="88.60" width="30.5" height="118.38" fill="#221c38"/>
<rect x="1279.4" y="206.68" width="30.5" height="118.38" fill="#175868"/>
<rect x="1279.4" y="324.76" width="30.5" height="118.38" fill="#3f9170"/>
<rect x="1279.4" y="442.84" width="30.5" height="118.38" fill="#b5b18b"/>
<rect x="1279.4" y="560.92" width="30.5" height="118.38" fill="#eeedf2"/>
<rect x="1279.4" y="88.6" width="30.5" height="590.4" fill="none" stroke="#000" stroke-width="2.5"/>
<line x1="1309.9" y1="88.60" x2="1323.6" y2="88.60" stroke="#000" stroke-width="2.6"/>
<text x="1329.4" y="97.0" font-size="23.6" textLength="39.7" lengthAdjust="spacingAndGlyphs">100</text>
<line x1="1309.9" y1="206.68" x2="1323.6" y2="206.68" stroke="#000" stroke-width="2.6"/>
<text x="1329.4" y="215.1" font-size="23.6" textLength="25.3" lengthAdjust="spacingAndGlyphs">75</text>
<line x1="1309.9" y1="324.76" x2="1323.6" y2="324.76" stroke="#000" stroke-width="2.6"/>
<text x="1329.4" y="333.2" font-size="23.6" textLength="26.0" lengthAdjust="spacingAndGlyphs">50</text>
<line x1="1309.9" y1="442.84" x2="1323.6" y2="442.84" stroke="#000" stroke-width="2.6"/>
<text x="1329.4" y="451.2" font-size="23.6" textLength="25.9" lengthAdjust="spacingAndGlyphs">25</text>
<line x1="1309.9" y1="560.92" x2="1323.6" y2="560.92" stroke="#000" stroke-width="2.6"/>
<text x="1329.4" y="569.3" font-size="23.6" textLength="10.8" lengthAdjust="spacingAndGlyphs">5</text>
<line x1="1309.9" y1="679.00" x2="1323.6" y2="679.00" stroke="#000" stroke-width="2.6"/>
<text x="1329.4" y="687.4" font-size="23.6" textLength="11.5" lengthAdjust="spacingAndGlyphs">0</text>
<g transform="translate(1399.5,570) rotate(-90)"><text x="0" y="0" font-size="25.6" textLength="346" lengthAdjust="spacingAndGlyphs">mean precip. rate / mm day</text><text x="346.5" y="-9.8" font-size="17.9" textLength="24.5" lengthAdjust="spacingAndGlyphs">−1</text></g>
</svg></body></html>
